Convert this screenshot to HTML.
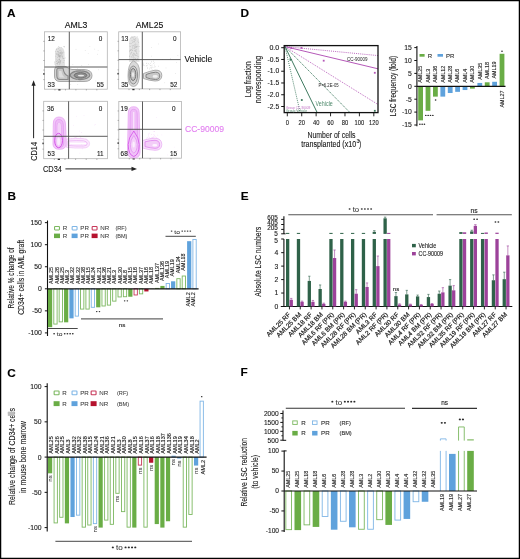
<!DOCTYPE html><html><head><meta charset="utf-8"><style>html,body{margin:0;padding:0;background:#fff;}svg{display:block;will-change:transform;}text{font-family:"Liberation Sans",sans-serif;stroke:currentColor;stroke-width:0.12px;}</style></head><body>
<svg width="520" height="559" viewBox="0 0 520 559">
<defs><filter id="bl" x="-20%" y="-20%" width="140%" height="140%"><feGaussianBlur stdDeviation="0.7"/></filter><filter id="bl2" x="-20%" y="-20%" width="140%" height="140%"><feGaussianBlur stdDeviation="0.35"/></filter><filter id="bl3" x="-30%" y="-30%" width="160%" height="160%"><feGaussianBlur stdDeviation="1.0"/></filter><filter id="spk" x="0" y="0" width="100%" height="100%"><feTurbulence type="fractalNoise" baseFrequency="1.6" numOctaves="1" seed="7" result="n"/><feColorMatrix in="n" type="matrix" values="0 0 0 0 0  0 0 0 0 0  0 0 0 0 0  0 0 0 2.6 -0.75" result="m"/><feGaussianBlur in="SourceGraphic" stdDeviation="0.6" result="b"/><feComposite in="b" in2="m" operator="in"/></filter></defs>
<rect x="0" y="0" width="520" height="559" fill="#fff"/>
<text x="7.00" y="17.20" font-size="11.8" fill="#000" color="#000" font-weight="bold">A</text>
<text x="240.50" y="17.20" font-size="11.8" fill="#000" color="#000" font-weight="bold">D</text>
<text x="7.50" y="199.60" font-size="11.8" fill="#000" color="#000" font-weight="bold">B</text>
<text x="240.80" y="200.20" font-size="11.8" fill="#000" color="#000" font-weight="bold">E</text>
<text x="7.30" y="376.50" font-size="11.8" fill="#000" color="#000" font-weight="bold">C</text>
<text x="240.40" y="376.30" font-size="11.8" fill="#000" color="#000" font-weight="bold">F</text>
<text x="76.10" y="27.50" font-size="8.7" text-anchor="middle" fill="#111" color="#111">AML3</text>
<text x="149.60" y="27.50" font-size="8.7" text-anchor="middle" fill="#111" color="#111">AML25</text>
<text x="184.60" y="61.50" font-size="8.6" fill="#111" color="#111" textLength="27.6" lengthAdjust="spacingAndGlyphs">Vehicle</text>
<text x="185.00" y="132.20" font-size="8.6" fill="#e27ef0" color="#e27ef0" textLength="39" lengthAdjust="spacingAndGlyphs">CC-90009</text>
<rect x="44.50" y="31.80" width="62.80" height="57.40" fill="none" stroke="#b4b4b4" stroke-width="0.8" />
<line x1="43.30" y1="41.37" x2="44.50" y2="41.37" stroke="#777" stroke-width="0.6" />
<line x1="43.30" y1="50.93" x2="44.50" y2="50.93" stroke="#777" stroke-width="0.6" />
<line x1="43.30" y1="60.50" x2="44.50" y2="60.50" stroke="#777" stroke-width="0.6" />
<line x1="43.30" y1="70.07" x2="44.50" y2="70.07" stroke="#777" stroke-width="0.6" />
<line x1="43.30" y1="79.63" x2="44.50" y2="79.63" stroke="#777" stroke-width="0.6" />
<line x1="54.97" y1="89.20" x2="54.97" y2="90.40" stroke="#777" stroke-width="0.6" />
<line x1="65.43" y1="89.20" x2="65.43" y2="90.40" stroke="#777" stroke-width="0.6" />
<line x1="75.90" y1="89.20" x2="75.90" y2="90.40" stroke="#777" stroke-width="0.6" />
<line x1="86.37" y1="89.20" x2="86.37" y2="90.40" stroke="#777" stroke-width="0.6" />
<line x1="96.83" y1="89.20" x2="96.83" y2="90.40" stroke="#777" stroke-width="0.6" />
<rect x="43.20" y="73.13" width="1.30" height="1.60" fill="#333" />
<rect x="58.32" y="89.20" width="2.20" height="1.30" fill="#333" />
<rect x="118.70" y="31.80" width="61.90" height="57.10" fill="none" stroke="#b4b4b4" stroke-width="0.8" />
<line x1="117.50" y1="41.32" x2="118.70" y2="41.32" stroke="#777" stroke-width="0.6" />
<line x1="117.50" y1="50.83" x2="118.70" y2="50.83" stroke="#777" stroke-width="0.6" />
<line x1="117.50" y1="60.35" x2="118.70" y2="60.35" stroke="#777" stroke-width="0.6" />
<line x1="117.50" y1="69.87" x2="118.70" y2="69.87" stroke="#777" stroke-width="0.6" />
<line x1="117.50" y1="79.38" x2="118.70" y2="79.38" stroke="#777" stroke-width="0.6" />
<line x1="129.02" y1="88.90" x2="129.02" y2="90.10" stroke="#777" stroke-width="0.6" />
<line x1="139.33" y1="88.90" x2="139.33" y2="90.10" stroke="#777" stroke-width="0.6" />
<line x1="149.65" y1="88.90" x2="149.65" y2="90.10" stroke="#777" stroke-width="0.6" />
<line x1="159.97" y1="88.90" x2="159.97" y2="90.10" stroke="#777" stroke-width="0.6" />
<line x1="170.28" y1="88.90" x2="170.28" y2="90.10" stroke="#777" stroke-width="0.6" />
<rect x="117.40" y="72.91" width="1.30" height="1.60" fill="#333" />
<rect x="132.32" y="88.90" width="2.20" height="1.30" fill="#333" />
<rect x="43.70" y="101.30" width="63.80" height="57.40" fill="none" stroke="#b4b4b4" stroke-width="0.8" />
<line x1="42.50" y1="110.87" x2="43.70" y2="110.87" stroke="#777" stroke-width="0.6" />
<line x1="42.50" y1="120.43" x2="43.70" y2="120.43" stroke="#777" stroke-width="0.6" />
<line x1="42.50" y1="130.00" x2="43.70" y2="130.00" stroke="#777" stroke-width="0.6" />
<line x1="42.50" y1="139.57" x2="43.70" y2="139.57" stroke="#777" stroke-width="0.6" />
<line x1="42.50" y1="149.13" x2="43.70" y2="149.13" stroke="#777" stroke-width="0.6" />
<line x1="54.33" y1="158.70" x2="54.33" y2="159.90" stroke="#777" stroke-width="0.6" />
<line x1="64.97" y1="158.70" x2="64.97" y2="159.90" stroke="#777" stroke-width="0.6" />
<line x1="75.60" y1="158.70" x2="75.60" y2="159.90" stroke="#777" stroke-width="0.6" />
<line x1="86.23" y1="158.70" x2="86.23" y2="159.90" stroke="#777" stroke-width="0.6" />
<line x1="96.87" y1="158.70" x2="96.87" y2="159.90" stroke="#777" stroke-width="0.6" />
<rect x="42.40" y="142.63" width="1.30" height="1.60" fill="#333" />
<rect x="57.74" y="158.70" width="2.20" height="1.30" fill="#333" />
<rect x="118.80" y="101.50" width="62.70" height="56.70" fill="none" stroke="#b4b4b4" stroke-width="0.8" />
<line x1="117.60" y1="110.95" x2="118.80" y2="110.95" stroke="#777" stroke-width="0.6" />
<line x1="117.60" y1="120.40" x2="118.80" y2="120.40" stroke="#777" stroke-width="0.6" />
<line x1="117.60" y1="129.85" x2="118.80" y2="129.85" stroke="#777" stroke-width="0.6" />
<line x1="117.60" y1="139.30" x2="118.80" y2="139.30" stroke="#777" stroke-width="0.6" />
<line x1="117.60" y1="148.75" x2="118.80" y2="148.75" stroke="#777" stroke-width="0.6" />
<line x1="129.25" y1="158.20" x2="129.25" y2="159.40" stroke="#777" stroke-width="0.6" />
<line x1="139.70" y1="158.20" x2="139.70" y2="159.40" stroke="#777" stroke-width="0.6" />
<line x1="150.15" y1="158.20" x2="150.15" y2="159.40" stroke="#777" stroke-width="0.6" />
<line x1="160.60" y1="158.20" x2="160.60" y2="159.40" stroke="#777" stroke-width="0.6" />
<line x1="171.05" y1="158.20" x2="171.05" y2="159.40" stroke="#777" stroke-width="0.6" />
<rect x="117.50" y="142.32" width="1.30" height="1.60" fill="#333" />
<rect x="132.59" y="158.20" width="2.20" height="1.30" fill="#333" />
<g filter="url(#bl)"><path d="M55,53 Q55,47 59.5,47 Q64.5,47 64.5,53 L65,68 L55,68 Z" fill="#e0e0e0"/><path d="M54.5,70 Q54.5,66.5 58,66.5 L66,66.5 Q68,69 72,69.5 L84,69.5 Q92,70 92,75.5 Q92,81.5 84,81.5 L60,81.5 Q54.5,81.5 54.5,76 Z" fill="#d2d2d2" stroke="#a8a8a8" stroke-width="1"/><path d="M56.8,70 Q56.8,68.2 59,68.2 L63,68.2 Q64,75 68,76 L68,79.5 L60,79.5 Q56.8,79.5 56.8,75.5 Z" fill="#c6c6c6" stroke="#8a8a8a" stroke-width="1.1"/><path d="M59,71 L61.5,71 Q62,76 65,77.5 L60,77.5 Q59,77.5 59,75 Z" fill="#dedede"/><ellipse cx="80" cy="75.2" rx="9.8" ry="4.4" fill="#b5b5b5" stroke="#858585" stroke-width="1.2"/><ellipse cx="80.5" cy="75.4" rx="6.3" ry="2.7" fill="#909090" stroke="#6d6d6d" stroke-width="1"/><ellipse cx="81" cy="75.6" rx="3.2" ry="0.9" fill="#e8e8e8"/></g>
<g fill="#8a8a8a" opacity="0.7"><circle cx="59.8" cy="64.4" r="0.36"/><circle cx="57.5" cy="63.0" r="0.36"/><circle cx="59.0" cy="56.1" r="0.36"/><circle cx="64.0" cy="58.4" r="0.36"/><circle cx="59.5" cy="61.5" r="0.36"/><circle cx="62.2" cy="57.3" r="0.36"/><circle cx="61.0" cy="52.1" r="0.36"/><circle cx="58.8" cy="55.1" r="0.36"/><circle cx="56.5" cy="49.2" r="0.36"/><circle cx="55.9" cy="56.2" r="0.36"/><circle cx="59.2" cy="55.7" r="0.36"/><circle cx="59.8" cy="50.2" r="0.36"/><circle cx="59.4" cy="58.8" r="0.36"/><circle cx="61.3" cy="52.8" r="0.36"/><circle cx="58.7" cy="46.4" r="0.36"/><circle cx="56.3" cy="63.6" r="0.36"/><circle cx="54.5" cy="61.9" r="0.36"/><circle cx="60.4" cy="55.8" r="0.36"/><circle cx="60.7" cy="60.4" r="0.36"/><circle cx="62.0" cy="56.2" r="0.36"/><circle cx="58.2" cy="54.2" r="0.36"/><circle cx="57.3" cy="57.3" r="0.36"/><circle cx="57.8" cy="63.4" r="0.36"/><circle cx="55.3" cy="51.5" r="0.36"/><circle cx="58.9" cy="54.6" r="0.36"/><circle cx="63.4" cy="46.6" r="0.36"/><circle cx="62.1" cy="53.5" r="0.36"/><circle cx="59.2" cy="53.8" r="0.36"/><circle cx="61.1" cy="51.2" r="0.36"/><circle cx="59.4" cy="59.4" r="0.36"/><circle cx="63.1" cy="62.7" r="0.36"/><circle cx="58.5" cy="59.2" r="0.36"/><circle cx="58.5" cy="66.6" r="0.36"/><circle cx="60.1" cy="56.3" r="0.36"/><circle cx="59.1" cy="56.4" r="0.36"/><circle cx="59.2" cy="52.7" r="0.36"/><circle cx="64.3" cy="47.0" r="0.36"/><circle cx="59.3" cy="59.5" r="0.36"/><circle cx="59.1" cy="56.7" r="0.36"/><circle cx="60.4" cy="62.8" r="0.36"/><circle cx="58.6" cy="55.4" r="0.36"/><circle cx="64.1" cy="60.4" r="0.36"/><circle cx="61.4" cy="54.3" r="0.36"/><circle cx="56.9" cy="59.1" r="0.36"/><circle cx="57.7" cy="51.7" r="0.36"/><circle cx="56.6" cy="54.7" r="0.36"/><circle cx="62.1" cy="55.1" r="0.36"/><circle cx="56.3" cy="61.2" r="0.36"/><circle cx="59.8" cy="62.1" r="0.36"/><circle cx="62.4" cy="56.6" r="0.36"/><circle cx="59.3" cy="57.2" r="0.36"/><circle cx="57.0" cy="61.2" r="0.36"/><circle cx="62.8" cy="58.5" r="0.36"/><circle cx="59.1" cy="56.1" r="0.36"/><circle cx="57.8" cy="53.1" r="0.36"/><circle cx="58.7" cy="52.9" r="0.36"/><circle cx="58.6" cy="48.8" r="0.36"/><circle cx="60.4" cy="57.8" r="0.36"/><circle cx="59.6" cy="63.6" r="0.36"/><circle cx="57.9" cy="54.8" r="0.36"/><circle cx="58.3" cy="61.1" r="0.36"/><circle cx="57.5" cy="62.9" r="0.36"/><circle cx="58.9" cy="62.6" r="0.36"/><circle cx="59.7" cy="56.2" r="0.36"/><circle cx="56.2" cy="53.7" r="0.36"/><circle cx="59.0" cy="61.1" r="0.36"/><circle cx="60.2" cy="53.7" r="0.36"/><circle cx="60.5" cy="62.9" r="0.36"/><circle cx="59.3" cy="55.1" r="0.36"/><circle cx="58.7" cy="62.0" r="0.36"/><circle cx="60.8" cy="52.4" r="0.36"/><circle cx="60.5" cy="54.9" r="0.36"/><circle cx="57.9" cy="64.3" r="0.36"/><circle cx="61.5" cy="53.5" r="0.36"/><circle cx="59.8" cy="60.3" r="0.36"/><circle cx="58.1" cy="56.8" r="0.36"/><circle cx="61.1" cy="47.7" r="0.36"/><circle cx="60.4" cy="61.6" r="0.36"/><circle cx="60.8" cy="50.1" r="0.36"/><circle cx="60.3" cy="52.8" r="0.36"/><circle cx="60.9" cy="60.8" r="0.36"/><circle cx="60.1" cy="53.3" r="0.36"/><circle cx="58.2" cy="62.2" r="0.36"/><circle cx="57.5" cy="60.2" r="0.36"/><circle cx="60.8" cy="56.0" r="0.36"/><circle cx="65.1" cy="57.9" r="0.36"/><circle cx="64.5" cy="46.4" r="0.36"/><circle cx="54.4" cy="62.9" r="0.36"/><circle cx="61.1" cy="55.8" r="0.36"/><circle cx="59.5" cy="47.0" r="0.36"/><circle cx="58.2" cy="51.8" r="0.36"/><circle cx="59.1" cy="62.4" r="0.36"/><circle cx="59.7" cy="59.5" r="0.36"/><circle cx="58.0" cy="55.1" r="0.36"/><circle cx="59.9" cy="55.9" r="0.36"/><circle cx="62.5" cy="52.7" r="0.36"/><circle cx="63.9" cy="52.1" r="0.36"/><circle cx="62.0" cy="53.2" r="0.36"/><circle cx="63.4" cy="58.3" r="0.36"/><circle cx="60.5" cy="61.6" r="0.36"/><circle cx="58.1" cy="51.8" r="0.36"/><circle cx="54.9" cy="64.2" r="0.36"/><circle cx="58.0" cy="54.2" r="0.36"/></g>
<g filter="url(#bl)"><path d="M129,42 Q129,36 134,36 Q139.3,36 139.3,42 L139.5,62 L129,62 Z" fill="#e4e4e4"/></g>
<g fill="#9a9a9a" opacity="0.7"><circle cx="134.1" cy="63.9" r="0.36"/><circle cx="129.7" cy="50.9" r="0.36"/><circle cx="133.2" cy="53.0" r="0.36"/><circle cx="129.5" cy="46.0" r="0.36"/><circle cx="136.4" cy="60.7" r="0.36"/><circle cx="138.4" cy="42.6" r="0.36"/><circle cx="134.3" cy="48.2" r="0.36"/><circle cx="130.6" cy="38.2" r="0.36"/><circle cx="136.2" cy="50.8" r="0.36"/><circle cx="133.8" cy="58.1" r="0.36"/><circle cx="131.6" cy="52.9" r="0.36"/><circle cx="134.2" cy="48.6" r="0.36"/><circle cx="135.5" cy="50.3" r="0.36"/><circle cx="134.9" cy="51.0" r="0.36"/><circle cx="139.2" cy="46.7" r="0.36"/><circle cx="136.8" cy="53.6" r="0.36"/><circle cx="133.3" cy="55.0" r="0.36"/><circle cx="132.0" cy="57.7" r="0.36"/><circle cx="132.1" cy="45.3" r="0.36"/><circle cx="135.0" cy="55.2" r="0.36"/><circle cx="136.6" cy="55.7" r="0.36"/><circle cx="133.7" cy="41.8" r="0.36"/><circle cx="135.6" cy="51.3" r="0.36"/><circle cx="131.7" cy="56.3" r="0.36"/><circle cx="134.7" cy="41.8" r="0.36"/><circle cx="135.3" cy="39.1" r="0.36"/><circle cx="131.9" cy="52.0" r="0.36"/><circle cx="130.2" cy="49.3" r="0.36"/><circle cx="130.7" cy="54.5" r="0.36"/><circle cx="132.3" cy="50.4" r="0.36"/><circle cx="130.3" cy="46.4" r="0.36"/><circle cx="136.7" cy="52.4" r="0.36"/><circle cx="129.4" cy="55.9" r="0.36"/><circle cx="136.5" cy="46.2" r="0.36"/><circle cx="137.9" cy="41.1" r="0.36"/><circle cx="134.0" cy="57.4" r="0.36"/><circle cx="137.6" cy="58.6" r="0.36"/><circle cx="135.2" cy="38.3" r="0.36"/><circle cx="133.9" cy="39.4" r="0.36"/><circle cx="137.0" cy="55.0" r="0.36"/><circle cx="135.6" cy="49.1" r="0.36"/><circle cx="134.3" cy="46.8" r="0.36"/><circle cx="135.2" cy="50.9" r="0.36"/><circle cx="135.4" cy="45.8" r="0.36"/><circle cx="139.1" cy="51.1" r="0.36"/><circle cx="137.8" cy="59.0" r="0.36"/><circle cx="131.9" cy="36.3" r="0.36"/><circle cx="137.5" cy="46.1" r="0.36"/><circle cx="134.4" cy="47.1" r="0.36"/><circle cx="134.5" cy="40.1" r="0.36"/><circle cx="133.9" cy="45.5" r="0.36"/><circle cx="136.3" cy="51.5" r="0.36"/><circle cx="129.7" cy="43.5" r="0.36"/><circle cx="134.3" cy="53.7" r="0.36"/><circle cx="134.2" cy="59.4" r="0.36"/><circle cx="134.3" cy="41.5" r="0.36"/><circle cx="132.4" cy="54.6" r="0.36"/><circle cx="132.6" cy="55.3" r="0.36"/><circle cx="136.9" cy="53.4" r="0.36"/><circle cx="136.8" cy="47.7" r="0.36"/><circle cx="134.2" cy="44.6" r="0.36"/><circle cx="132.6" cy="37.3" r="0.36"/><circle cx="132.8" cy="41.0" r="0.36"/><circle cx="130.5" cy="50.1" r="0.36"/><circle cx="135.4" cy="46.4" r="0.36"/><circle cx="137.8" cy="56.1" r="0.36"/><circle cx="136.9" cy="44.5" r="0.36"/><circle cx="130.3" cy="53.2" r="0.36"/><circle cx="135.0" cy="54.4" r="0.36"/><circle cx="135.3" cy="58.5" r="0.36"/><circle cx="133.5" cy="54.0" r="0.36"/><circle cx="133.0" cy="60.2" r="0.36"/><circle cx="129.8" cy="56.6" r="0.36"/><circle cx="132.4" cy="46.0" r="0.36"/><circle cx="134.3" cy="50.6" r="0.36"/><circle cx="131.7" cy="49.9" r="0.36"/><circle cx="135.4" cy="55.3" r="0.36"/><circle cx="132.2" cy="60.6" r="0.36"/><circle cx="130.7" cy="50.3" r="0.36"/><circle cx="129.4" cy="51.8" r="0.36"/><circle cx="135.6" cy="40.4" r="0.36"/><circle cx="130.1" cy="50.4" r="0.36"/><circle cx="135.8" cy="43.1" r="0.36"/><circle cx="132.4" cy="50.1" r="0.36"/><circle cx="134.6" cy="60.9" r="0.36"/><circle cx="135.4" cy="44.6" r="0.36"/><circle cx="134.9" cy="54.4" r="0.36"/><circle cx="135.8" cy="59.8" r="0.36"/><circle cx="137.7" cy="36.5" r="0.36"/><circle cx="133.1" cy="56.3" r="0.36"/><circle cx="134.1" cy="45.8" r="0.36"/><circle cx="138.3" cy="56.8" r="0.36"/><circle cx="133.6" cy="55.8" r="0.36"/><circle cx="130.8" cy="43.6" r="0.36"/><circle cx="136.5" cy="49.3" r="0.36"/><circle cx="131.4" cy="52.4" r="0.36"/><circle cx="135.1" cy="58.6" r="0.36"/><circle cx="136.7" cy="46.9" r="0.36"/><circle cx="132.9" cy="48.0" r="0.36"/><circle cx="133.6" cy="60.0" r="0.36"/><circle cx="138.3" cy="59.2" r="0.36"/><circle cx="135.2" cy="47.2" r="0.36"/><circle cx="136.5" cy="46.4" r="0.36"/><circle cx="134.8" cy="36.5" r="0.36"/><circle cx="133.1" cy="59.8" r="0.36"/><circle cx="131.5" cy="37.8" r="0.36"/><circle cx="133.8" cy="61.5" r="0.36"/><circle cx="138.0" cy="46.3" r="0.36"/><circle cx="133.0" cy="48.2" r="0.36"/><circle cx="131.8" cy="49.3" r="0.36"/><circle cx="133.4" cy="37.9" r="0.36"/><circle cx="132.7" cy="47.1" r="0.36"/><circle cx="132.0" cy="40.6" r="0.36"/><circle cx="136.6" cy="63.2" r="0.36"/><circle cx="133.5" cy="45.8" r="0.36"/><circle cx="135.5" cy="47.3" r="0.36"/><circle cx="132.2" cy="59.4" r="0.36"/><circle cx="131.5" cy="43.5" r="0.36"/><circle cx="132.5" cy="42.4" r="0.36"/><circle cx="133.6" cy="53.3" r="0.36"/><circle cx="137.9" cy="54.0" r="0.36"/><circle cx="134.3" cy="39.6" r="0.36"/><circle cx="134.0" cy="41.9" r="0.36"/></g>
<g fill="#aaa" opacity="0.8"><circle cx="149.5" cy="68.9" r="0.35"/><circle cx="151.0" cy="65.4" r="0.35"/><circle cx="146.2" cy="65.9" r="0.35"/><circle cx="150.6" cy="63.2" r="0.35"/><circle cx="147.5" cy="68.6" r="0.35"/><circle cx="153.0" cy="67.5" r="0.35"/><circle cx="152.0" cy="66.9" r="0.35"/><circle cx="151.5" cy="61.2" r="0.35"/><circle cx="151.3" cy="67.8" r="0.35"/><circle cx="153.3" cy="61.4" r="0.35"/><circle cx="147.6" cy="65.1" r="0.35"/><circle cx="147.4" cy="67.2" r="0.35"/><circle cx="143.6" cy="65.3" r="0.35"/><circle cx="151.1" cy="68.2" r="0.35"/><circle cx="150.2" cy="65.3" r="0.35"/><circle cx="153.5" cy="60.0" r="0.35"/><circle cx="154.7" cy="65.1" r="0.35"/><circle cx="143.7" cy="64.7" r="0.35"/><circle cx="148.4" cy="63.7" r="0.35"/><circle cx="153.7" cy="63.3" r="0.35"/><circle cx="143.5" cy="63.1" r="0.35"/><circle cx="158.6" cy="66.1" r="0.35"/><circle cx="146.9" cy="63.0" r="0.35"/><circle cx="144.5" cy="65.5" r="0.35"/><circle cx="152.1" cy="69.5" r="0.35"/><circle cx="155.7" cy="66.8" r="0.35"/><circle cx="146.7" cy="63.4" r="0.35"/><circle cx="152.1" cy="65.0" r="0.35"/><circle cx="151.8" cy="62.0" r="0.35"/><circle cx="154.5" cy="66.9" r="0.35"/><circle cx="150.2" cy="67.2" r="0.35"/><circle cx="149.1" cy="64.5" r="0.35"/><circle cx="154.3" cy="62.8" r="0.35"/></g>
<g filter="url(#bl2)"><path d="M133.5,61 Q139.5,63 139.5,72 Q139.5,86.5 133.5,86.5 Q128,86.5 128,76 Q128,63 133.5,61 Z" fill="#dadada" stroke="#a6a6a6" stroke-width="0.8"/><ellipse cx="133.3" cy="75" rx="4.3" ry="9" fill="#cfcfcf" stroke="#8a8a8a" stroke-width="0.9"/><ellipse cx="133.1" cy="74.5" rx="2.7" ry="6" fill="#c2c2c2" stroke="#6c6c6c" stroke-width="0.9"/><ellipse cx="133" cy="74.5" rx="1.1" ry="2.6" fill="#ececec"/><path d="M143.5,73.5 Q150,71 155,70.2 Q161.8,69.8 161.8,75.5 Q161.8,81 155,81 Q149,80.5 143.5,78.5 Z" fill="#dedede" stroke="#9a9a9a" stroke-width="0.8"/><path d="M146,74.5 Q151,72.6 155.5,72.2 Q159.8,72.2 159.8,76 Q159.8,79.5 155.5,79.5 Q150.5,79.3 146,77.5 Z" fill="#c8c8c8" stroke="#787878" stroke-width="0.9"/><ellipse cx="155.2" cy="76.4" rx="2.6" ry="1.3" fill="#f0f0f0"/></g>
<g fill="#f0c0f6" opacity="0.9"><circle cx="86.0" cy="138.2" r="0.4"/><circle cx="75.6" cy="137.3" r="0.4"/><circle cx="81.7" cy="132.3" r="0.4"/><circle cx="80.8" cy="137.7" r="0.4"/><circle cx="76.3" cy="136.4" r="0.4"/><circle cx="77.6" cy="141.7" r="0.4"/><circle cx="80.1" cy="142.3" r="0.4"/><circle cx="80.4" cy="145.0" r="0.4"/><circle cx="73.3" cy="136.3" r="0.4"/><circle cx="67.1" cy="143.7" r="0.4"/><circle cx="73.4" cy="145.2" r="0.4"/><circle cx="76.3" cy="137.0" r="0.4"/><circle cx="82.3" cy="148.8" r="0.4"/><circle cx="74.7" cy="137.2" r="0.4"/><circle cx="70.1" cy="144.6" r="0.4"/><circle cx="71.9" cy="139.4" r="0.4"/><circle cx="80.8" cy="141.0" r="0.4"/><circle cx="76.8" cy="138.8" r="0.4"/><circle cx="71.5" cy="141.7" r="0.4"/><circle cx="77.1" cy="143.4" r="0.4"/><circle cx="72.5" cy="142.4" r="0.4"/><circle cx="79.3" cy="141.3" r="0.4"/><circle cx="80.0" cy="145.0" r="0.4"/><circle cx="77.4" cy="141.3" r="0.4"/><circle cx="69.2" cy="142.3" r="0.4"/><circle cx="75.3" cy="139.8" r="0.4"/><circle cx="70.2" cy="143.3" r="0.4"/><circle cx="76.6" cy="142.7" r="0.4"/><circle cx="71.9" cy="141.4" r="0.4"/><circle cx="71.4" cy="138.4" r="0.4"/><circle cx="77.6" cy="141.9" r="0.4"/><circle cx="75.2" cy="137.8" r="0.4"/><circle cx="77.8" cy="136.6" r="0.4"/><circle cx="81.4" cy="139.6" r="0.4"/><circle cx="76.0" cy="144.1" r="0.4"/><circle cx="79.9" cy="135.8" r="0.4"/><circle cx="74.3" cy="142.5" r="0.4"/><circle cx="75.5" cy="140.8" r="0.4"/></g>
<g filter="url(#bl2)"><path d="M53.3,124 Q53.3,117 59,117 Q65,117 65.5,124 L66.3,144 Q66,149.3 59.5,149.3 Q53,149.3 53,144 Z" fill="#f2c8f9" stroke="#e8a6f3" stroke-width="0.8"/><path d="M55.2,125 Q55.2,119.5 59,119.5 Q63,119.5 63.3,125 L63.8,143 Q63.6,147.5 59.2,147.5 Q55,147.5 55,143 Z" fill="#efbcf7" stroke="#e296f1" stroke-width="0.7"/><path d="M57,126 Q57,122 59,122 Q61.3,122 61.5,126 L61.6,135 L57,135 Z" fill="#f4d2f9" stroke="#e49ef2" stroke-width="0.6"/><ellipse cx="58.6" cy="140.5" rx="3.9" ry="7.2" fill="#f1c4f8" stroke="#d658ea" stroke-width="1"/><ellipse cx="58.6" cy="141.5" rx="1.5" ry="4" fill="#f9ecfc"/><path d="M66.5,139 Q76,138.2 83,138.6 Q89.5,139.5 89.5,143.6 Q89.5,148 83,148 Q75,148.3 66.5,147.3 Z" fill="#fbeafd" stroke="#efbff6" stroke-width="0.7"/><path d="M68,141 Q77,140.3 83.5,140.8 Q87.3,141.5 87.3,143.6 Q87.3,146 83.5,146 Q76,146.3 68,145.5 Z" fill="none" stroke="#eaaaf4" stroke-width="0.7"/><path d="M70,143.4 L86,143.5" stroke="#fff" stroke-width="1.1"/></g>
<g fill="#f0c0f6" opacity="0.9"><circle cx="152.6" cy="138.2" r="0.4"/><circle cx="150.8" cy="138.7" r="0.4"/><circle cx="158.2" cy="139.5" r="0.4"/><circle cx="153.3" cy="136.8" r="0.4"/><circle cx="156.7" cy="137.4" r="0.4"/><circle cx="154.4" cy="131.7" r="0.4"/><circle cx="151.5" cy="137.7" r="0.4"/><circle cx="147.2" cy="141.9" r="0.4"/><circle cx="152.4" cy="137.6" r="0.4"/><circle cx="146.9" cy="143.6" r="0.4"/><circle cx="154.5" cy="140.0" r="0.4"/><circle cx="145.4" cy="141.9" r="0.4"/><circle cx="153.3" cy="137.2" r="0.4"/><circle cx="149.4" cy="133.1" r="0.4"/><circle cx="153.9" cy="134.7" r="0.4"/><circle cx="155.1" cy="136.7" r="0.4"/><circle cx="146.3" cy="139.1" r="0.4"/><circle cx="151.3" cy="134.6" r="0.4"/><circle cx="149.6" cy="139.8" r="0.4"/><circle cx="148.5" cy="134.0" r="0.4"/><circle cx="148.5" cy="135.1" r="0.4"/><circle cx="146.5" cy="138.1" r="0.4"/><circle cx="149.7" cy="137.4" r="0.4"/><circle cx="148.8" cy="136.8" r="0.4"/><circle cx="150.9" cy="143.8" r="0.4"/><circle cx="142.3" cy="133.2" r="0.4"/><circle cx="154.6" cy="135.6" r="0.4"/><circle cx="157.8" cy="135.1" r="0.4"/><circle cx="147.1" cy="140.5" r="0.4"/><circle cx="155.4" cy="139.3" r="0.4"/><circle cx="152.7" cy="137.6" r="0.4"/><circle cx="147.4" cy="137.4" r="0.4"/><circle cx="157.6" cy="140.1" r="0.4"/><circle cx="150.1" cy="138.9" r="0.4"/></g>
<g filter="url(#bl2)"><path d="M128.3,113 Q128.3,106.7 133.7,106.7 Q139.2,106.7 139.2,113 L140,152 Q140,158 134,158 Q127.5,158 127.5,152 Z" fill="#f2c8f9" stroke="#e8a6f3" stroke-width="0.8"/><path d="M130.2,114 Q130.2,109.3 133.7,109.3 Q137.2,109.3 137.2,114 L137.6,150 Q137.6,155.6 133.8,155.6 Q129.8,155.6 129.8,150 Z" fill="#efbcf7" stroke="#e296f1" stroke-width="0.7"/><line x1="133.7" y1="112" x2="133.7" y2="130" stroke="#f8e2fb" stroke-width="1.4"/><path d="M133.8,131 Q139.2,138 139.2,144.5 Q139.2,155 133.8,156.5 Q128.2,155 128.2,144.5 Q128.2,138 133.8,131 Z" fill="#f0c2f8" stroke="#d65aea" stroke-width="0.9"/><path d="M133.8,135.5 Q137.2,140 137.2,144.5 Q137.2,151.5 133.8,153 Q130.4,151.5 130.4,144.5 Q130.4,140 133.8,135.5 Z" fill="#f4d0f9" stroke="#e08cf0" stroke-width="0.7"/><ellipse cx="133.7" cy="144.6" rx="1.2" ry="3" fill="#fbf0fd"/><path d="M142.5,140.5 Q150,138.2 155,138.2 Q161.8,138.5 161.8,144.5 Q161.8,150.3 155,150.3 Q149,150 142.5,148 Z" fill="#f8e0fb" stroke="#eab2f4" stroke-width="0.8"/><path d="M145,141.8 Q150.5,140.3 155,140.3 Q159.6,140.6 159.6,144.6 Q159.6,148.3 155,148.3 Q150.5,148.1 145,146.6 Z" fill="#f3cdf8" stroke="#df84ef" stroke-width="0.8"/><ellipse cx="154.8" cy="145.3" rx="2.5" ry="1.2" fill="#fdf5fe"/></g>
<circle cx="75.2" cy="71.8" r="0.35" fill="#c4c4c4"/><circle cx="89.9" cy="46.5" r="0.35" fill="#c4c4c4"/><circle cx="77.8" cy="84.7" r="0.35" fill="#c4c4c4"/><circle cx="77.5" cy="68.5" r="0.35" fill="#c4c4c4"/><circle cx="84.3" cy="77.2" r="0.35" fill="#c4c4c4"/><circle cx="90.5" cy="77.5" r="0.35" fill="#c4c4c4"/><circle cx="88.2" cy="53.5" r="0.35" fill="#c4c4c4"/><circle cx="76.0" cy="49.2" r="0.35" fill="#c4c4c4"/><circle cx="98.1" cy="50.5" r="0.35" fill="#c4c4c4"/><circle cx="70.8" cy="84.7" r="0.35" fill="#c4c4c4"/><circle cx="76.8" cy="81.7" r="0.35" fill="#c4c4c4"/><circle cx="72.9" cy="64.6" r="0.35" fill="#c4c4c4"/><circle cx="77.6" cy="79.2" r="0.35" fill="#c4c4c4"/><circle cx="90.9" cy="71.7" r="0.35" fill="#c4c4c4"/><circle cx="95.9" cy="80.9" r="0.35" fill="#c4c4c4"/><circle cx="81.8" cy="70.1" r="0.35" fill="#c4c4c4"/><circle cx="85.2" cy="50.4" r="0.35" fill="#c4c4c4"/><circle cx="98.4" cy="69.8" r="0.35" fill="#c4c4c4"/><circle cx="97.7" cy="54.2" r="0.35" fill="#c4c4c4"/><circle cx="88.3" cy="64.6" r="0.35" fill="#c4c4c4"/><circle cx="94.8" cy="49.1" r="0.35" fill="#c4c4c4"/><circle cx="81.8" cy="65.4" r="0.35" fill="#c4c4c4"/>
<circle cx="146.4" cy="65.4" r="0.35" fill="#c4c4c4"/><circle cx="169.0" cy="59.5" r="0.35" fill="#c4c4c4"/><circle cx="166.0" cy="67.9" r="0.35" fill="#c4c4c4"/><circle cx="151.3" cy="56.1" r="0.35" fill="#c4c4c4"/><circle cx="177.9" cy="55.4" r="0.35" fill="#c4c4c4"/><circle cx="158.6" cy="43.9" r="0.35" fill="#c4c4c4"/><circle cx="151.4" cy="47.6" r="0.35" fill="#c4c4c4"/><circle cx="175.7" cy="73.4" r="0.35" fill="#c4c4c4"/><circle cx="173.7" cy="85.4" r="0.35" fill="#c4c4c4"/><circle cx="164.8" cy="82.8" r="0.35" fill="#c4c4c4"/><circle cx="162.2" cy="59.3" r="0.35" fill="#c4c4c4"/><circle cx="176.2" cy="81.5" r="0.35" fill="#c4c4c4"/><circle cx="176.3" cy="62.3" r="0.35" fill="#c4c4c4"/><circle cx="170.3" cy="58.7" r="0.35" fill="#c4c4c4"/>
<circle cx="103.9" cy="152.5" r="0.35" fill="#f3d3f8"/><circle cx="79.9" cy="153.1" r="0.35" fill="#f3d3f8"/><circle cx="76.3" cy="116.2" r="0.35" fill="#f3d3f8"/><circle cx="94.6" cy="124.9" r="0.35" fill="#f3d3f8"/><circle cx="87.7" cy="140.1" r="0.35" fill="#f3d3f8"/><circle cx="71.4" cy="144.8" r="0.35" fill="#f3d3f8"/><circle cx="79.4" cy="131.0" r="0.35" fill="#f3d3f8"/><circle cx="81.7" cy="144.7" r="0.35" fill="#f3d3f8"/><circle cx="95.4" cy="124.6" r="0.35" fill="#f3d3f8"/><circle cx="73.5" cy="125.2" r="0.35" fill="#f3d3f8"/><circle cx="84.0" cy="115.4" r="0.35" fill="#f3d3f8"/><circle cx="75.2" cy="145.6" r="0.35" fill="#f3d3f8"/>
<circle cx="167.8" cy="154.9" r="0.35" fill="#f3d3f8"/><circle cx="177.3" cy="150.3" r="0.35" fill="#f3d3f8"/><circle cx="156.7" cy="117.4" r="0.35" fill="#f3d3f8"/><circle cx="154.6" cy="131.3" r="0.35" fill="#f3d3f8"/><circle cx="161.9" cy="134.9" r="0.35" fill="#f3d3f8"/><circle cx="156.2" cy="149.2" r="0.35" fill="#f3d3f8"/><circle cx="153.7" cy="131.3" r="0.35" fill="#f3d3f8"/><circle cx="174.2" cy="147.1" r="0.35" fill="#f3d3f8"/>
<line x1="69.30" y1="31.80" x2="69.30" y2="89.20" stroke="#4a4a4a" stroke-width="0.9" />
<line x1="44.50" y1="67.00" x2="107.30" y2="67.00" stroke="#4a4a4a" stroke-width="0.9" />
<text x="47.80" y="41.20" font-size="6.4" fill="#222" color="#222">12</text>
<text x="102.30" y="41.20" font-size="6.4" text-anchor="end" fill="#222" color="#222">0</text>
<text x="47.60" y="86.80" font-size="6.4" fill="#222" color="#222">33</text>
<text x="103.90" y="86.80" font-size="6.4" text-anchor="end" fill="#222" color="#222">55</text>
<line x1="142.30" y1="31.80" x2="142.30" y2="88.90" stroke="#4a4a4a" stroke-width="0.9" />
<line x1="118.70" y1="59.60" x2="180.60" y2="59.60" stroke="#4a4a4a" stroke-width="0.9" />
<text x="121.20" y="41.20" font-size="6.4" fill="#222" color="#222">13</text>
<text x="176.60" y="41.20" font-size="6.4" text-anchor="end" fill="#222" color="#222">0</text>
<text x="121.20" y="86.50" font-size="6.4" fill="#222" color="#222">35</text>
<text x="177.30" y="86.50" font-size="6.4" text-anchor="end" fill="#222" color="#222">52</text>
<line x1="68.60" y1="101.30" x2="68.60" y2="158.70" stroke="#4a4a4a" stroke-width="0.9" />
<line x1="43.70" y1="136.30" x2="107.50" y2="136.30" stroke="#4a4a4a" stroke-width="0.9" />
<text x="47.00" y="110.70" font-size="6.4" fill="#222" color="#222">36</text>
<text x="102.40" y="110.70" font-size="6.4" text-anchor="end" fill="#222" color="#222">0</text>
<text x="47.60" y="156.30" font-size="6.4" fill="#222" color="#222">53</text>
<text x="103.60" y="156.30" font-size="6.4" text-anchor="end" fill="#222" color="#222">11</text>
<line x1="142.50" y1="101.50" x2="142.50" y2="158.20" stroke="#4a4a4a" stroke-width="0.9" />
<line x1="118.80" y1="129.30" x2="181.50" y2="129.30" stroke="#4a4a4a" stroke-width="0.9" />
<text x="120.60" y="110.90" font-size="6.4" fill="#222" color="#222">19</text>
<text x="175.50" y="110.90" font-size="6.4" text-anchor="end" fill="#222" color="#222">0</text>
<text x="120.60" y="155.80" font-size="6.4" fill="#222" color="#222">68</text>
<text x="177.00" y="155.80" font-size="6.4" text-anchor="end" fill="#222" color="#222">15</text>
<line x1="33.60" y1="138.20" x2="33.60" y2="84.50" stroke="#222" stroke-width="1" />
<path d="M33.6,80.2 L31.5,85.8 L35.7,85.8 Z" fill="#222"/>
<text x="37.00" y="160.80" font-size="9" fill="#222" color="#222" textLength="18.8" lengthAdjust="spacingAndGlyphs" transform="rotate(-90 37.00 160.80)">CD14</text>
<text x="43.00" y="171.50" font-size="9" fill="#222" color="#222" textLength="19" lengthAdjust="spacingAndGlyphs">CD34</text>
<line x1="65.40" y1="168.90" x2="132.00" y2="168.90" stroke="#222" stroke-width="1" />
<path d="M137,168.9 L131.5,166.8 L131.5,171 Z" fill="#222"/>
<clipPath id="dclip"><rect x="284.2" y="45.6" width="93.80000000000001" height="67.0"/></clipPath>
<g clip-path="url(#dclip)">
<line x1="285.00" y1="46.60" x2="378.00" y2="68.80" stroke="#b558b8" stroke-width="1.0" />
<line x1="285.00" y1="46.60" x2="378.00" y2="55.60" stroke="#b558b8" stroke-width="0.9" stroke-dasharray="1 1.1"/>
<line x1="285.00" y1="46.60" x2="378.00" y2="104.50" stroke="#b558b8" stroke-width="0.9" stroke-dasharray="1 1.1"/>
<line x1="285.00" y1="46.60" x2="317.20" y2="112.60" stroke="#3f7a60" stroke-width="1.0" />
<line x1="285.00" y1="46.60" x2="350.00" y2="112.60" stroke="#3f7a60" stroke-width="0.9" stroke-dasharray="1.3 0.9"/>
<line x1="285.00" y1="46.60" x2="300.20" y2="112.60" stroke="#3f7a60" stroke-width="0.9" stroke-dasharray="1 1.1"/>
</g>
<rect x="290.40" y="47.10" width="1.80" height="1.80" fill="#b558b8" />
<rect x="300.60" y="47.00" width="1.80" height="1.80" fill="#b558b8" />
<rect x="322.80" y="59.80" width="1.80" height="1.80" fill="#b558b8" />
<rect x="373.90" y="71.90" width="1.80" height="1.80" fill="#b558b8" />
<rect x="300.90" y="99.10" width="1.80" height="1.80" fill="#3f7a60" />
<rect x="373.90" y="109.90" width="1.80" height="1.80" fill="#3f7a60" />
<path d="M289.5,58.2 L292.3,59.6 L289.8,61.2 Z" fill="#3f7a60"/>
<rect x="284.20" y="45.60" width="93.80" height="67.00" fill="none" stroke="#111" stroke-width="1.3" />
<line x1="281.20" y1="47.70" x2="284.20" y2="47.70" stroke="#111" stroke-width="1.0" />
<text x="279.20" y="49.90" font-size="6.3" text-anchor="end" fill="#222" color="#222" textLength="9.8" lengthAdjust="spacingAndGlyphs">0.0</text>
<line x1="281.20" y1="59.46" x2="284.20" y2="59.46" stroke="#111" stroke-width="1.0" />
<text x="279.20" y="61.66" font-size="6.3" text-anchor="end" fill="#222" color="#222" textLength="11.6" lengthAdjust="spacingAndGlyphs">-0.5</text>
<line x1="281.20" y1="71.22" x2="284.20" y2="71.22" stroke="#111" stroke-width="1.0" />
<text x="279.20" y="73.42" font-size="6.3" text-anchor="end" fill="#222" color="#222" textLength="11.6" lengthAdjust="spacingAndGlyphs">-1.0</text>
<line x1="281.20" y1="82.98" x2="284.20" y2="82.98" stroke="#111" stroke-width="1.0" />
<text x="279.20" y="85.18" font-size="6.3" text-anchor="end" fill="#222" color="#222" textLength="11.6" lengthAdjust="spacingAndGlyphs">-1.5</text>
<line x1="281.20" y1="94.74" x2="284.20" y2="94.74" stroke="#111" stroke-width="1.0" />
<text x="279.20" y="96.94" font-size="6.3" text-anchor="end" fill="#222" color="#222" textLength="11.6" lengthAdjust="spacingAndGlyphs">-2.0</text>
<line x1="281.20" y1="106.50" x2="284.20" y2="106.50" stroke="#111" stroke-width="1.0" />
<text x="279.20" y="108.70" font-size="6.3" text-anchor="end" fill="#222" color="#222" textLength="11.6" lengthAdjust="spacingAndGlyphs">-2.5</text>
<line x1="287.30" y1="112.60" x2="287.30" y2="116.30" stroke="#111" stroke-width="0.9" />
<text x="287.30" y="125.20" font-size="7.0" text-anchor="middle" fill="#222" color="#222" textLength="3.2" lengthAdjust="spacingAndGlyphs">0</text>
<line x1="301.72" y1="112.60" x2="301.72" y2="116.30" stroke="#111" stroke-width="0.9" />
<text x="301.72" y="125.20" font-size="7.0" text-anchor="middle" fill="#222" color="#222" textLength="6.4" lengthAdjust="spacingAndGlyphs">20</text>
<line x1="316.14" y1="112.60" x2="316.14" y2="116.30" stroke="#111" stroke-width="0.9" />
<text x="316.14" y="125.20" font-size="7.0" text-anchor="middle" fill="#222" color="#222" textLength="6.4" lengthAdjust="spacingAndGlyphs">40</text>
<line x1="330.56" y1="112.60" x2="330.56" y2="116.30" stroke="#111" stroke-width="0.9" />
<text x="330.56" y="125.20" font-size="7.0" text-anchor="middle" fill="#222" color="#222" textLength="6.4" lengthAdjust="spacingAndGlyphs">60</text>
<line x1="344.98" y1="112.60" x2="344.98" y2="116.30" stroke="#111" stroke-width="0.9" />
<text x="344.98" y="125.20" font-size="7.0" text-anchor="middle" fill="#222" color="#222" textLength="6.4" lengthAdjust="spacingAndGlyphs">80</text>
<line x1="359.40" y1="112.60" x2="359.40" y2="116.30" stroke="#111" stroke-width="0.9" />
<text x="359.40" y="125.20" font-size="7.0" text-anchor="middle" fill="#222" color="#222" textLength="9.6" lengthAdjust="spacingAndGlyphs">100</text>
<line x1="373.82" y1="112.60" x2="373.82" y2="116.30" stroke="#111" stroke-width="0.9" />
<text x="373.82" y="125.20" font-size="7.0" text-anchor="middle" fill="#222" color="#222" textLength="9.6" lengthAdjust="spacingAndGlyphs">120</text>
<text x="347.00" y="60.80" font-size="5.0" fill="#222" color="#222" style="stroke-width:0" textLength="20.5" lengthAdjust="spacingAndGlyphs">CC-90009</text>
<text x="318.60" y="87.30" font-size="5.0" fill="#222" color="#222" style="stroke-width:0" textLength="20" lengthAdjust="spacingAndGlyphs">P=6.2E-05</text>
<text x="315.60" y="106.00" font-size="6.8" fill="#4f8a6c" color="#4f8a6c" textLength="17.2" lengthAdjust="spacingAndGlyphs" style="stroke-width:0">Vehicle</text>
<text x="285.90" y="109.00" font-size="4.2" fill="#c070c4" color="#c070c4" style="stroke-width:0" textLength="24.4" lengthAdjust="spacingAndGlyphs">Group CC-90009</text>
<text x="285.90" y="111.90" font-size="4.2" fill="#5a8a72" color="#5a8a72" style="stroke-width:0" textLength="21.3" lengthAdjust="spacingAndGlyphs">Group Vehicle</text>
<text x="331.50" y="137.70" font-size="9.2" text-anchor="middle" fill="#222" color="#222" textLength="48" lengthAdjust="spacingAndGlyphs">Number of cells</text>
<text x="301.2" y="146.9" font-size="9.2" fill="#222" textLength="55" lengthAdjust="spacingAndGlyphs">transplanted (x10</text>
<text x="356.40" y="142.60" font-size="5.5" fill="#222" color="#222">3</text>
<text x="359.00" y="146.90" font-size="9.2" fill="#222" color="#222" textLength="2.2" lengthAdjust="spacingAndGlyphs">)</text>
<text x="250.80" y="97.30" font-size="8.8" fill="#222" color="#222" textLength="36" lengthAdjust="spacingAndGlyphs" transform="rotate(-90 250.80 97.30)">Log fraction</text>
<text x="261.40" y="103.30" font-size="8.8" fill="#222" color="#222" textLength="47.5" lengthAdjust="spacingAndGlyphs" transform="rotate(-90 261.40 103.30)">nonresponding</text>
<line x1="416.90" y1="46.00" x2="416.90" y2="126.30" stroke="#111" stroke-width="1.1" />
<line x1="414.30" y1="47.60" x2="416.90" y2="47.60" stroke="#111" stroke-width="1.0" />
<text x="411.80" y="49.90" font-size="6.8" text-anchor="end" fill="#222" color="#222">15</text>
<line x1="414.30" y1="60.50" x2="416.90" y2="60.50" stroke="#111" stroke-width="1.0" />
<text x="411.80" y="62.80" font-size="6.8" text-anchor="end" fill="#222" color="#222">10</text>
<line x1="414.30" y1="73.40" x2="416.90" y2="73.40" stroke="#111" stroke-width="1.0" />
<text x="411.80" y="75.70" font-size="6.8" text-anchor="end" fill="#222" color="#222">5</text>
<line x1="414.30" y1="86.30" x2="416.90" y2="86.30" stroke="#111" stroke-width="1.0" />
<text x="411.80" y="88.60" font-size="6.8" text-anchor="end" fill="#222" color="#222">0</text>
<line x1="414.30" y1="99.20" x2="416.90" y2="99.20" stroke="#111" stroke-width="1.0" />
<text x="411.80" y="101.50" font-size="6.8" text-anchor="end" fill="#222" color="#222">-5</text>
<line x1="414.30" y1="112.10" x2="416.90" y2="112.10" stroke="#111" stroke-width="1.0" />
<text x="411.80" y="114.40" font-size="6.8" text-anchor="end" fill="#222" color="#222">-10</text>
<line x1="414.30" y1="125.00" x2="416.90" y2="125.00" stroke="#111" stroke-width="1.0" />
<text x="411.80" y="127.30" font-size="6.8" text-anchor="end" fill="#222" color="#222">-15</text>
<rect x="418.20" y="86.30" width="4.80" height="34.06" fill="#6aad46" />
<text x="422.50" y="82.80" font-size="5.4" fill="#222" color="#222" transform="rotate(-90 422.50 82.80)">AML25</text>
<rect x="425.60" y="86.30" width="4.80" height="24.51" fill="#6aad46" />
<text x="429.90" y="82.80" font-size="5.4" fill="#222" color="#222" transform="rotate(-90 429.90 82.80)">AML3</text>
<rect x="433.00" y="86.30" width="4.80" height="10.32" fill="#6aad46" />
<text x="437.30" y="82.80" font-size="5.4" fill="#222" color="#222" transform="rotate(-90 437.30 82.80)">AML36</text>
<rect x="440.40" y="86.30" width="4.80" height="10.32" fill="#5fa2dc" />
<text x="444.70" y="82.80" font-size="5.4" fill="#222" color="#222" transform="rotate(-90 444.70 82.80)">AML12</text>
<rect x="447.80" y="86.30" width="4.80" height="6.71" fill="#5fa2dc" />
<text x="452.10" y="82.80" font-size="5.4" fill="#222" color="#222" transform="rotate(-90 452.10 82.80)">AML28</text>
<rect x="455.20" y="86.30" width="4.80" height="5.55" fill="#5fa2dc" />
<text x="459.50" y="82.80" font-size="5.4" fill="#222" color="#222" transform="rotate(-90 459.50 82.80)">AML6</text>
<rect x="462.60" y="86.30" width="4.80" height="3.74" fill="#5fa2dc" />
<text x="466.90" y="82.80" font-size="5.4" fill="#222" color="#222" transform="rotate(-90 466.90 82.80)">AML4</text>
<rect x="470.00" y="86.30" width="4.80" height="2.32" fill="#6aad46" />
<text x="474.30" y="82.80" font-size="5.4" fill="#222" color="#222" transform="rotate(-90 474.30 82.80)">AML30</text>
<rect x="477.40" y="82.95" width="4.80" height="3.35" fill="#5fa2dc" />
<text x="481.70" y="79.75" font-size="5.4" fill="#222" color="#222" transform="rotate(-90 481.70 79.75)">AML35</text>
<rect x="484.80" y="82.30" width="4.80" height="4.00" fill="#6aad46" />
<text x="489.10" y="79.10" font-size="5.4" fill="#222" color="#222" transform="rotate(-90 489.10 79.10)">AML18</text>
<rect x="492.20" y="81.78" width="4.80" height="4.52" fill="#5fa2dc" />
<text x="496.50" y="78.58" font-size="5.4" fill="#222" color="#222" transform="rotate(-90 496.50 78.58)">AML19</text>
<rect x="499.60" y="53.79" width="4.80" height="32.51" fill="#6aad46" />
<text x="503.90" y="107.60" font-size="5.4" fill="#222" color="#222" transform="rotate(-90 503.90 107.60)">AML27</text>
<line x1="416.90" y1="86.30" x2="505.50" y2="86.30" stroke="#111" stroke-width="1.2" />
<ellipse cx="419.90" cy="124.20" rx="0.83" ry="0.68" fill="#2a2a2a"/>
<ellipse cx="422.15" cy="124.20" rx="0.83" ry="0.68" fill="#2a2a2a"/>
<ellipse cx="424.40" cy="124.20" rx="0.83" ry="0.68" fill="#2a2a2a"/>
<ellipse cx="425.80" cy="115.40" rx="0.83" ry="0.68" fill="#2a2a2a"/>
<ellipse cx="428.15" cy="115.40" rx="0.83" ry="0.68" fill="#2a2a2a"/>
<ellipse cx="430.50" cy="115.40" rx="0.83" ry="0.68" fill="#2a2a2a"/>
<ellipse cx="432.85" cy="115.40" rx="0.83" ry="0.68" fill="#2a2a2a"/>
<ellipse cx="435.60" cy="100.00" rx="0.83" ry="0.68" fill="#2a2a2a"/>
<ellipse cx="502.00" cy="51.30" rx="0.83" ry="0.68" fill="#2a2a2a"/>
<rect x="419.50" y="54.00" width="5.10" height="2.70" fill="#6aad46" />
<text x="427.80" y="57.80" font-size="6.0" fill="#333" color="#333">R</text>
<rect x="437.50" y="54.00" width="5.50" height="2.70" fill="#5fa2dc" />
<text x="446.00" y="57.80" font-size="6.0" fill="#333" color="#333">PR</text>
<text x="396.00" y="116.40" font-size="8.3" fill="#222" color="#222" textLength="60.5" lengthAdjust="spacingAndGlyphs" transform="rotate(-90 396.00 116.40)">LSC frequency (fold)</text>
<line x1="47.50" y1="220.50" x2="47.50" y2="336.00" stroke="#111" stroke-width="1.1" />
<line x1="44.90" y1="222.65" x2="47.50" y2="222.65" stroke="#111" stroke-width="1.0" />
<text x="41.90" y="225.05" font-size="6.8" text-anchor="end" fill="#222" color="#222">150</text>
<line x1="44.90" y1="244.70" x2="47.50" y2="244.70" stroke="#111" stroke-width="1.0" />
<text x="41.90" y="247.10" font-size="6.8" text-anchor="end" fill="#222" color="#222">100</text>
<line x1="44.90" y1="266.75" x2="47.50" y2="266.75" stroke="#111" stroke-width="1.0" />
<text x="41.90" y="269.15" font-size="6.8" text-anchor="end" fill="#222" color="#222">50</text>
<line x1="44.90" y1="288.80" x2="47.50" y2="288.80" stroke="#111" stroke-width="1.0" />
<text x="41.90" y="291.20" font-size="6.8" text-anchor="end" fill="#222" color="#222">0</text>
<line x1="44.90" y1="310.85" x2="47.50" y2="310.85" stroke="#111" stroke-width="1.0" />
<text x="41.90" y="313.25" font-size="6.8" text-anchor="end" fill="#222" color="#222">-50</text>
<line x1="44.90" y1="332.90" x2="47.50" y2="332.90" stroke="#111" stroke-width="1.0" />
<text x="41.90" y="335.30" font-size="6.8" text-anchor="end" fill="#222" color="#222">-100</text>
<rect x="48.00" y="288.80" width="4.20" height="38.37" fill="#6aad46" />
<text x="53.25" y="284.00" font-size="5.4" fill="#222" color="#222" transform="rotate(-90 53.25 284.00)">AML25</text>
<rect x="53.80" y="288.80" width="3.30" height="35.27" fill="white" stroke="#7cb860" stroke-width="0.9" />
<text x="58.52" y="284.00" font-size="5.4" fill="#222" color="#222" transform="rotate(-90 58.52 284.00)">AML26</text>
<rect x="59.15" y="288.80" width="3.30" height="33.07" fill="white" stroke="#7cb860" stroke-width="0.9" />
<text x="63.78" y="284.00" font-size="5.4" fill="#222" color="#222" transform="rotate(-90 63.78 284.00)">AML25</text>
<rect x="64.05" y="288.80" width="4.20" height="33.52" fill="#6aad46" />
<text x="69.05" y="284.00" font-size="5.4" fill="#222" color="#222" transform="rotate(-90 69.05 284.00)">AML3</text>
<rect x="69.40" y="288.80" width="4.20" height="29.55" fill="#5fa2dc" />
<text x="74.31" y="284.00" font-size="5.4" fill="#222" color="#222" transform="rotate(-90 74.31 284.00)">AML32</text>
<rect x="75.20" y="288.80" width="3.30" height="27.33" fill="white" stroke="#7fb6e6" stroke-width="0.9" />
<text x="79.58" y="284.00" font-size="5.4" fill="#222" color="#222" transform="rotate(-90 79.58 284.00)">AML32</text>
<rect x="80.55" y="288.80" width="3.30" height="20.28" fill="white" stroke="#7cb860" stroke-width="0.9" />
<text x="84.84" y="284.00" font-size="5.4" fill="#222" color="#222" transform="rotate(-90 84.84 284.00)">AML38</text>
<rect x="85.90" y="288.80" width="3.30" height="20.28" fill="white" stroke="#7cb860" stroke-width="0.9" />
<text x="90.10" y="284.00" font-size="5.4" fill="#222" color="#222" transform="rotate(-90 90.10 284.00)">AML15</text>
<rect x="91.25" y="288.80" width="3.30" height="18.51" fill="white" stroke="#7fb6e6" stroke-width="0.9" />
<text x="95.37" y="284.00" font-size="5.4" fill="#222" color="#222" transform="rotate(-90 95.37 284.00)">AML24</text>
<rect x="96.15" y="288.80" width="4.20" height="18.52" fill="#6aad46" />
<text x="100.63" y="284.00" font-size="5.4" fill="#222" color="#222" transform="rotate(-90 100.63 284.00)">AML21</text>
<rect x="101.95" y="288.80" width="3.30" height="17.19" fill="white" stroke="#7cb860" stroke-width="0.9" />
<text x="105.90" y="284.00" font-size="5.4" fill="#222" color="#222" transform="rotate(-90 105.90 284.00)">AML36</text>
<rect x="107.30" y="288.80" width="3.30" height="16.31" fill="white" stroke="#7cb860" stroke-width="0.9" />
<text x="111.16" y="284.00" font-size="5.4" fill="#222" color="#222" transform="rotate(-90 111.16 284.00)">AML21</text>
<rect x="112.65" y="288.80" width="3.30" height="12.34" fill="white" stroke="#7cb860" stroke-width="0.9" />
<text x="116.43" y="284.00" font-size="5.4" fill="#222" color="#222" transform="rotate(-90 116.43 284.00)">AML3</text>
<rect x="118.00" y="288.80" width="3.30" height="8.15" fill="white" stroke="#7cb860" stroke-width="0.9" />
<text x="121.69" y="284.00" font-size="5.4" fill="#222" color="#222" transform="rotate(-90 121.69 284.00)">AML30</text>
<rect x="123.35" y="288.80" width="3.30" height="7.93" fill="white" stroke="#7cb860" stroke-width="0.9" />
<text x="126.96" y="284.00" font-size="5.4" fill="#222" color="#222" transform="rotate(-90 126.96 284.00)">AML8</text>
<rect x="128.25" y="288.80" width="4.20" height="7.94" fill="#6aad46" />
<text x="132.22" y="284.00" font-size="5.4" fill="#222" color="#222" transform="rotate(-90 132.22 284.00)">AML15</text>
<rect x="134.05" y="288.80" width="3.30" height="6.17" fill="white" stroke="#c8385a" stroke-width="0.9" />
<text x="137.49" y="284.00" font-size="5.4" fill="#222" color="#222" transform="rotate(-90 137.49 284.00)">AML16</text>
<rect x="139.40" y="288.80" width="3.30" height="5.06" fill="white" stroke="#7cb860" stroke-width="0.9" />
<text x="142.75" y="284.00" font-size="5.4" fill="#222" color="#222" transform="rotate(-90 142.75 284.00)">AML37</text>
<rect x="144.30" y="288.80" width="4.20" height="2.65" fill="#b5122e" />
<text x="148.02" y="284.00" font-size="5.4" fill="#222" color="#222" transform="rotate(-90 148.02 284.00)">AML16</text>
<rect x="149.65" y="288.80" width="4.20" height="0.22" fill="#6aad46" />
<text x="153.28" y="284.00" font-size="5.4" fill="#222" color="#222" transform="rotate(-90 153.28 284.00)">AML18</text>
<rect x="155.00" y="287.92" width="4.20" height="0.88" fill="#6aad46" />
<text x="158.55" y="283.02" font-size="5.4" fill="#222" color="#222" transform="rotate(-90 158.55 283.02)">AML137</text>
<rect x="160.35" y="285.93" width="4.20" height="2.87" fill="#6aad46" />
<text x="163.81" y="281.03" font-size="5.4" fill="#222" color="#222" transform="rotate(-90 163.81 281.03)">AML136</text>
<rect x="166.15" y="283.52" width="3.30" height="5.28" fill="white" stroke="#7fb6e6" stroke-width="0.9" />
<text x="169.08" y="278.17" font-size="5.4" fill="#222" color="#222" transform="rotate(-90 169.08 278.17)">AML19</text>
<rect x="171.05" y="281.30" width="4.20" height="7.50" fill="#5fa2dc" />
<text x="174.34" y="276.40" font-size="5.4" fill="#222" color="#222" transform="rotate(-90 174.34 276.40)">AML19</text>
<rect x="176.85" y="278.67" width="3.30" height="10.13" fill="white" stroke="#7cb860" stroke-width="0.9" />
<text x="179.61" y="273.32" font-size="5.4" fill="#222" color="#222" transform="rotate(-90 179.61 273.32)">AML34</text>
<rect x="182.20" y="276.02" width="3.30" height="12.78" fill="white" stroke="#7cb860" stroke-width="0.9" />
<text x="184.88" y="270.67" font-size="5.4" fill="#222" color="#222" transform="rotate(-90 184.88 270.67)">AML18</text>
<rect x="187.10" y="241.17" width="4.20" height="47.63" fill="#5fa2dc" />
<text x="190.14" y="306.40" font-size="5.4" fill="#222" color="#222" transform="rotate(-90 190.14 306.40)">AML2</text>
<rect x="192.90" y="239.42" width="3.30" height="49.38" fill="white" stroke="#7fb6e6" stroke-width="0.9" />
<text x="195.41" y="306.40" font-size="5.4" fill="#222" color="#222" transform="rotate(-90 195.41 306.40)">AML2</text>
<line x1="47.50" y1="288.80" x2="198.60" y2="288.80" stroke="#111" stroke-width="1.2" />
<ellipse cx="96.75" cy="311.60" rx="0.79" ry="0.65" fill="#2a2a2a"/>
<ellipse cx="99.45" cy="311.60" rx="0.79" ry="0.65" fill="#2a2a2a"/>
<ellipse cx="124.65" cy="300.80" rx="0.79" ry="0.65" fill="#2a2a2a"/>
<ellipse cx="127.35" cy="300.80" rx="0.79" ry="0.65" fill="#2a2a2a"/>
<line x1="47.50" y1="328.50" x2="77.70" y2="328.50" stroke="#333" stroke-width="0.9" />
<ellipse cx="54.10" cy="333.70" rx="0.88" ry="0.72" fill="#2a2a2a"/>
<text x="56.80" y="336.20" font-size="6.0" fill="#333" color="#333" textLength="5.60" lengthAdjust="spacingAndGlyphs" style="stroke-width:0.05px">to</text>
<ellipse cx="64.70" cy="333.70" rx="0.88" ry="0.72" fill="#2a2a2a"/>
<ellipse cx="67.40" cy="333.70" rx="0.88" ry="0.72" fill="#2a2a2a"/>
<ellipse cx="70.10" cy="333.70" rx="0.88" ry="0.72" fill="#2a2a2a"/>
<ellipse cx="72.80" cy="333.70" rx="0.88" ry="0.72" fill="#2a2a2a"/>
<line x1="81.00" y1="318.90" x2="163.00" y2="318.90" stroke="#666" stroke-width="1.1" />
<text x="122.00" y="327.00" font-size="6.2" text-anchor="middle" fill="#222" color="#222">ns</text>
<line x1="165.50" y1="236.30" x2="195.80" y2="236.30" stroke="#333" stroke-width="0.9" />
<ellipse cx="171.60" cy="231.10" rx="0.88" ry="0.72" fill="#2a2a2a"/>
<text x="174.30" y="233.60" font-size="6.0" fill="#333" color="#333" textLength="5.60" lengthAdjust="spacingAndGlyphs" style="stroke-width:0.05px">to</text>
<ellipse cx="182.20" cy="231.10" rx="0.88" ry="0.72" fill="#2a2a2a"/>
<ellipse cx="184.90" cy="231.10" rx="0.88" ry="0.72" fill="#2a2a2a"/>
<ellipse cx="187.60" cy="231.10" rx="0.88" ry="0.72" fill="#2a2a2a"/>
<ellipse cx="190.30" cy="231.10" rx="0.88" ry="0.72" fill="#2a2a2a"/>
<rect x="54.55" y="226.55" width="4.90" height="3.40" fill="white" stroke="#7cb860" stroke-width="1.1" rx="0.6"/>
<rect x="54.00" y="233.60" width="6.00" height="4.50" fill="#6aad46" />
<text x="62.70" y="230.30" font-size="6.2" fill="#3a3a3a" color="#3a3a3a" style="stroke-width:0.05px">R</text>
<text x="62.70" y="237.90" font-size="6.2" fill="#3a3a3a" color="#3a3a3a" style="stroke-width:0.05px">R</text>
<rect x="72.15" y="226.55" width="4.90" height="3.40" fill="white" stroke="#7fb6e6" stroke-width="1.1" rx="0.6"/>
<rect x="71.60" y="233.60" width="6.00" height="4.50" fill="#5fa2dc" />
<text x="80.30" y="230.30" font-size="6.2" fill="#3a3a3a" color="#3a3a3a" style="stroke-width:0.05px">PR</text>
<text x="80.30" y="237.90" font-size="6.2" fill="#3a3a3a" color="#3a3a3a" style="stroke-width:0.05px">PR</text>
<rect x="92.15" y="226.55" width="4.90" height="3.40" fill="white" stroke="#c8385a" stroke-width="1.1" rx="0.6"/>
<rect x="91.60" y="233.60" width="6.00" height="4.50" fill="#b5122e" />
<text x="100.30" y="230.30" font-size="6.2" fill="#3a3a3a" color="#3a3a3a" style="stroke-width:0.05px">NR</text>
<text x="100.30" y="237.90" font-size="6.2" fill="#3a3a3a" color="#3a3a3a" style="stroke-width:0.05px">NR</text>
<text x="115.40" y="230.30" font-size="5.58" fill="#3a3a3a" color="#3a3a3a" style="stroke-width:0.05px">(RF)</text>
<text x="115.40" y="237.90" font-size="5.58" fill="#3a3a3a" color="#3a3a3a" style="stroke-width:0.05px">(BM)</text>
<text x="14.20" y="308.40" font-size="8.2" fill="#222" color="#222" textLength="61" lengthAdjust="spacingAndGlyphs" transform="rotate(-90 14.20 308.40)">Relative % change of</text>
<text x="23.80" y="314.80" font-size="8.2" fill="#222" color="#222" textLength="75" lengthAdjust="spacingAndGlyphs" transform="rotate(-90 23.80 314.80)">CD34+ cells in AML graft</text>
<line x1="47.20" y1="383.30" x2="47.20" y2="531.50" stroke="#111" stroke-width="1.1" />
<line x1="44.60" y1="386.60" x2="47.20" y2="386.60" stroke="#111" stroke-width="1.0" />
<text x="41.60" y="389.00" font-size="6.8" text-anchor="end" fill="#222" color="#222">100</text>
<line x1="44.60" y1="421.85" x2="47.20" y2="421.85" stroke="#111" stroke-width="1.0" />
<text x="41.60" y="424.25" font-size="6.8" text-anchor="end" fill="#222" color="#222">50</text>
<line x1="44.60" y1="457.10" x2="47.20" y2="457.10" stroke="#111" stroke-width="1.0" />
<text x="41.60" y="459.50" font-size="6.8" text-anchor="end" fill="#222" color="#222">0</text>
<line x1="44.60" y1="492.35" x2="47.20" y2="492.35" stroke="#111" stroke-width="1.0" />
<text x="41.60" y="494.75" font-size="6.8" text-anchor="end" fill="#222" color="#222">-50</text>
<line x1="44.60" y1="527.60" x2="47.20" y2="527.60" stroke="#111" stroke-width="1.0" />
<text x="41.60" y="530.00" font-size="6.8" text-anchor="end" fill="#222" color="#222">-100</text>
<rect x="48.00" y="457.10" width="4.20" height="16.21" fill="#6aad46" />
<text x="53.20" y="453.80" font-size="5.55" fill="#222" color="#222" transform="rotate(-90 53.20 453.80)">AML25</text>
<text x="51.70" y="475.31" font-size="6.0" text-anchor="end" fill="#333" color="#333" transform="rotate(-90 51.70 475.31)" style="stroke-width:0.05px">ns</text>
<rect x="54.07" y="457.10" width="3.30" height="65.82" fill="white" stroke="#7cb860" stroke-width="0.9" />
<text x="58.82" y="453.80" font-size="5.55" fill="#222" color="#222" transform="rotate(-90 58.82 453.80)">AML26</text>
<rect x="59.68" y="457.10" width="3.30" height="60.18" fill="white" stroke="#7cb860" stroke-width="0.9" />
<text x="64.43" y="453.80" font-size="5.55" fill="#222" color="#222" transform="rotate(-90 64.43 453.80)">AML25</text>
<rect x="64.84" y="457.10" width="4.20" height="66.27" fill="#6aad46" />
<text x="70.04" y="453.80" font-size="5.55" fill="#222" color="#222" transform="rotate(-90 70.04 453.80)">AML3</text>
<rect x="70.46" y="457.10" width="4.20" height="59.92" fill="#5fa2dc" />
<text x="75.66" y="453.80" font-size="5.55" fill="#222" color="#222" transform="rotate(-90 75.66 453.80)">AML32</text>
<rect x="76.53" y="457.10" width="3.30" height="58.06" fill="white" stroke="#7fb6e6" stroke-width="0.9" />
<text x="81.27" y="453.80" font-size="5.55" fill="#222" color="#222" transform="rotate(-90 81.27 453.80)">AML32</text>
<rect x="82.14" y="457.10" width="3.30" height="70.05" fill="white" stroke="#7cb860" stroke-width="0.9" />
<text x="86.89" y="453.80" font-size="5.55" fill="#222" color="#222" transform="rotate(-90 86.89 453.80)">AML38</text>
<rect x="87.76" y="457.10" width="3.30" height="67.93" fill="white" stroke="#7cb860" stroke-width="0.9" />
<text x="92.50" y="453.80" font-size="5.55" fill="#222" color="#222" transform="rotate(-90 92.50 453.80)">AML15</text>
<rect x="93.37" y="457.10" width="3.30" height="66.53" fill="white" stroke="#7fb6e6" stroke-width="0.9" />
<text x="98.12" y="453.80" font-size="5.55" fill="#222" color="#222" transform="rotate(-90 98.12 453.80)">AML24</text>
<text x="96.62" y="526.08" font-size="6.0" text-anchor="end" fill="#333" color="#333" transform="rotate(-90 96.62 526.08)" style="stroke-width:0.05px">ns</text>
<rect x="98.53" y="457.10" width="4.20" height="70.50" fill="#6aad46" />
<text x="103.73" y="453.80" font-size="5.55" fill="#222" color="#222" transform="rotate(-90 103.73 453.80)">AML21</text>
<rect x="104.60" y="457.10" width="3.30" height="63.00" fill="white" stroke="#7cb860" stroke-width="0.9" />
<text x="109.35" y="453.80" font-size="5.55" fill="#222" color="#222" transform="rotate(-90 109.35 453.80)">AML36</text>
<rect x="110.22" y="457.10" width="3.30" height="67.23" fill="white" stroke="#7cb860" stroke-width="0.9" />
<text x="114.96" y="453.80" font-size="5.55" fill="#222" color="#222" transform="rotate(-90 114.96 453.80)">AML21</text>
<rect x="115.83" y="457.10" width="3.30" height="36.21" fill="white" stroke="#7cb860" stroke-width="0.9" />
<text x="120.58" y="453.80" font-size="5.55" fill="#222" color="#222" transform="rotate(-90 120.58 453.80)">AML3</text>
<text x="119.08" y="495.76" font-size="6.0" text-anchor="end" fill="#333" color="#333" transform="rotate(-90 119.08 495.76)" style="stroke-width:0.05px">ns</text>
<rect x="121.45" y="457.10" width="3.30" height="54.54" fill="white" stroke="#7cb860" stroke-width="0.9" />
<text x="126.19" y="453.80" font-size="5.55" fill="#222" color="#222" transform="rotate(-90 126.19 453.80)">AML30</text>
<rect x="127.06" y="457.10" width="3.30" height="70.05" fill="white" stroke="#7cb860" stroke-width="0.9" />
<text x="131.81" y="453.80" font-size="5.55" fill="#222" color="#222" transform="rotate(-90 131.81 453.80)">AML8</text>
<rect x="132.23" y="457.10" width="4.20" height="70.50" fill="#6aad46" />
<text x="137.43" y="453.80" font-size="5.55" fill="#222" color="#222" transform="rotate(-90 137.43 453.80)">AML15</text>
<rect x="138.29" y="457.10" width="3.30" height="8.01" fill="white" stroke="#c8385a" stroke-width="0.9" />
<text x="143.04" y="453.80" font-size="5.55" fill="#222" color="#222" transform="rotate(-90 143.04 453.80)">AML16</text>
<text x="141.54" y="467.56" font-size="6.0" text-anchor="end" fill="#333" color="#333" transform="rotate(-90 141.54 467.56)" style="stroke-width:0.05px">ns</text>
<rect x="143.90" y="457.10" width="3.30" height="70.05" fill="white" stroke="#7cb860" stroke-width="0.9" />
<text x="148.65" y="453.80" font-size="5.55" fill="#222" color="#222" transform="rotate(-90 148.65 453.80)">AML37</text>
<rect x="149.07" y="457.10" width="4.20" height="5.64" fill="#b5122e" />
<text x="154.27" y="453.80" font-size="5.55" fill="#222" color="#222" transform="rotate(-90 154.27 453.80)">AML16</text>
<text x="152.77" y="464.74" font-size="6.0" text-anchor="end" fill="#333" color="#333" transform="rotate(-90 152.77 464.74)" style="stroke-width:0.05px">ns</text>
<rect x="154.69" y="457.10" width="4.20" height="66.98" fill="#6aad46" />
<text x="159.88" y="453.80" font-size="5.55" fill="#222" color="#222" transform="rotate(-90 159.88 453.80)">AML18</text>
<rect x="160.30" y="457.10" width="4.20" height="70.50" fill="#6aad46" />
<text x="165.50" y="453.80" font-size="5.55" fill="#222" color="#222" transform="rotate(-90 165.50 453.80)">AML137</text>
<rect x="165.92" y="457.10" width="4.20" height="64.15" fill="#6aad46" />
<text x="171.12" y="453.80" font-size="5.55" fill="#222" color="#222" transform="rotate(-90 171.12 453.80)">AML136</text>
<rect x="171.98" y="456.14" width="3.30" height="0.96" fill="white" stroke="#7fb6e6" stroke-width="0.9" />
<text x="176.73" y="453.80" font-size="5.55" fill="#222" color="#222" transform="rotate(-90 176.73 453.80)">AML19</text>
<text x="175.23" y="459.10" font-size="6.0" text-anchor="end" fill="#333" color="#333" transform="rotate(-90 175.23 459.10)" style="stroke-width:0.05px">ns</text>
<rect x="177.15" y="457.10" width="4.20" height="1.41" fill="#5fa2dc" />
<text x="182.34" y="453.80" font-size="5.55" fill="#222" color="#222" transform="rotate(-90 182.34 453.80)">AML19</text>
<text x="180.84" y="460.51" font-size="6.0" text-anchor="end" fill="#333" color="#333" transform="rotate(-90 180.84 460.51)" style="stroke-width:0.05px">ns</text>
<rect x="183.21" y="457.10" width="3.30" height="70.05" fill="white" stroke="#7cb860" stroke-width="0.9" />
<text x="187.96" y="453.80" font-size="5.55" fill="#222" color="#222" transform="rotate(-90 187.96 453.80)">AML34</text>
<rect x="188.82" y="457.10" width="3.30" height="57.36" fill="white" stroke="#7cb860" stroke-width="0.9" />
<text x="193.57" y="453.80" font-size="5.55" fill="#222" color="#222" transform="rotate(-90 193.57 453.80)">AML18</text>
<rect x="193.99" y="457.10" width="4.20" height="8.46" fill="#5fa2dc" />
<text x="199.19" y="453.80" font-size="5.55" fill="#222" color="#222" transform="rotate(-90 199.19 453.80)">AML2</text>
<text x="197.69" y="467.56" font-size="6.0" text-anchor="end" fill="#333" color="#333" transform="rotate(-90 197.69 467.56)" style="stroke-width:0.05px">ns</text>
<rect x="200.06" y="401.15" width="3.30" height="55.95" fill="white" stroke="#7fb6e6" stroke-width="0.9" />
<text x="204.81" y="474.50" font-size="5.55" fill="#222" color="#222" transform="rotate(-90 204.81 474.50)">AML2</text>
<ellipse cx="201.71" cy="396.70" rx="0.79" ry="0.65" fill="#2a2a2a"/>
<line x1="47.20" y1="457.10" x2="206.60" y2="457.10" stroke="#111" stroke-width="1.2" />
<line x1="55.40" y1="541.30" x2="192.00" y2="541.30" stroke="#333" stroke-width="0.9" />
<ellipse cx="112.84" cy="547.40" rx="1.06" ry="0.86" fill="#2a2a2a"/>
<text x="116.08" y="550.40" font-size="7.199999999999999" fill="#333" color="#333" textLength="6.72" lengthAdjust="spacingAndGlyphs" style="stroke-width:0.05px">to</text>
<ellipse cx="125.56" cy="547.40" rx="1.06" ry="0.86" fill="#2a2a2a"/>
<ellipse cx="128.80" cy="547.40" rx="1.06" ry="0.86" fill="#2a2a2a"/>
<ellipse cx="132.04" cy="547.40" rx="1.06" ry="0.86" fill="#2a2a2a"/>
<ellipse cx="135.28" cy="547.40" rx="1.06" ry="0.86" fill="#2a2a2a"/>
<rect x="54.15" y="390.95" width="4.90" height="3.80" fill="white" stroke="#7cb860" stroke-width="1.1" rx="0.6"/>
<rect x="53.60" y="401.20" width="6.00" height="4.90" fill="#6aad46" />
<text x="62.30" y="395.10" font-size="6.2" fill="#3a3a3a" color="#3a3a3a" style="stroke-width:0.05px">R</text>
<text x="62.30" y="405.90" font-size="6.2" fill="#3a3a3a" color="#3a3a3a" style="stroke-width:0.05px">R</text>
<rect x="72.05" y="390.95" width="4.90" height="3.80" fill="white" stroke="#7fb6e6" stroke-width="1.1" rx="0.6"/>
<rect x="71.50" y="401.20" width="6.00" height="4.90" fill="#5fa2dc" />
<text x="80.20" y="395.10" font-size="6.2" fill="#3a3a3a" color="#3a3a3a" style="stroke-width:0.05px">PR</text>
<text x="80.20" y="405.90" font-size="6.2" fill="#3a3a3a" color="#3a3a3a" style="stroke-width:0.05px">PR</text>
<rect x="91.15" y="390.95" width="4.90" height="3.80" fill="white" stroke="#c8385a" stroke-width="1.1" rx="0.6"/>
<rect x="90.60" y="401.20" width="6.00" height="4.90" fill="#b5122e" />
<text x="99.30" y="395.10" font-size="6.2" fill="#3a3a3a" color="#3a3a3a" style="stroke-width:0.05px">NR</text>
<text x="99.30" y="405.90" font-size="6.2" fill="#3a3a3a" color="#3a3a3a" style="stroke-width:0.05px">NR</text>
<text x="117.00" y="395.10" font-size="5.58" fill="#3a3a3a" color="#3a3a3a" style="stroke-width:0.05px">(RF)</text>
<text x="117.00" y="405.90" font-size="5.58" fill="#3a3a3a" color="#3a3a3a" style="stroke-width:0.05px">(BM)</text>
<text x="14.60" y="505.00" font-size="8.2" fill="#222" color="#222" textLength="97" lengthAdjust="spacingAndGlyphs" transform="rotate(-90 14.60 505.00)">Relative change of CD34+ cells</text>
<rect x="7.80" y="411.90" width="6.90" height="4.00" fill="#bcbcbc" />
<text x="26.20" y="493.00" font-size="8.2" fill="#222" color="#222" textLength="72" lengthAdjust="spacingAndGlyphs" transform="rotate(-90 26.20 493.00)">in mouse bone marrow</text>
<line x1="283.90" y1="239.00" x2="283.90" y2="306.50" stroke="#111" stroke-width="1.1" />
<line x1="283.90" y1="216.30" x2="283.90" y2="234.10" stroke="#111" stroke-width="1.1" />
<line x1="281.20" y1="239.00" x2="283.90" y2="239.00" stroke="#111" stroke-width="1.0" />
<line x1="281.20" y1="233.80" x2="285.60" y2="233.80" stroke="#111" stroke-width="1.0" />
<line x1="281.20" y1="293.04" x2="283.90" y2="293.04" stroke="#111" stroke-width="1.0" />
<line x1="281.20" y1="279.58" x2="283.90" y2="279.58" stroke="#111" stroke-width="1.0" />
<line x1="281.20" y1="266.12" x2="283.90" y2="266.12" stroke="#111" stroke-width="1.0" />
<line x1="281.20" y1="252.66" x2="283.90" y2="252.66" stroke="#111" stroke-width="1.0" />
<line x1="281.20" y1="219.40" x2="283.90" y2="219.40" stroke="#111" stroke-width="1.0" />
<line x1="281.20" y1="224.50" x2="283.90" y2="224.50" stroke="#111" stroke-width="1.0" />
<line x1="281.20" y1="229.40" x2="283.90" y2="229.40" stroke="#111" stroke-width="1.0" />
<text x="278.30" y="308.90" font-size="6.8" text-anchor="end" fill="#222" color="#222">0</text>
<text x="278.30" y="295.44" font-size="6.8" text-anchor="end" fill="#222" color="#222">1</text>
<text x="278.30" y="281.98" font-size="6.8" text-anchor="end" fill="#222" color="#222">2</text>
<text x="278.30" y="268.52" font-size="6.8" text-anchor="end" fill="#222" color="#222">3</text>
<text x="278.30" y="255.06" font-size="6.8" text-anchor="end" fill="#222" color="#222">4</text>
<text x="278.00" y="242.50" font-size="6.6" text-anchor="end" fill="#222" color="#222">5</text>
<text x="277.80" y="219.70" font-size="6.4" text-anchor="end" fill="#222" color="#222">605</text>
<text x="277.80" y="224.60" font-size="6.4" text-anchor="end" fill="#222" color="#222">405</text>
<text x="277.80" y="229.60" font-size="6.4" text-anchor="end" fill="#222" color="#222">205</text>
<text x="277.80" y="236.00" font-size="6.4" text-anchor="end" fill="#222" color="#222">5</text>
<line x1="280.80" y1="306.50" x2="512.30" y2="306.50" stroke="#111" stroke-width="1.2" />
<rect x="286.00" y="239.00" width="3.30" height="67.50" fill="#2f6249" />
<rect x="286.00" y="232.90" width="3.30" height="1.00" fill="#2f6249" />
<rect x="289.60" y="299.77" width="3.30" height="6.73" fill="#9c429a" />
<line x1="291.25" y1="298.42" x2="291.25" y2="299.77" stroke="#9c429a" stroke-width="0.6" />
<line x1="290.10" y1="298.42" x2="292.40" y2="298.42" stroke="#9c429a" stroke-width="0.6" />
<line x1="289.45" y1="306.50" x2="289.45" y2="309.40" stroke="#111" stroke-width="0.9" />
<text x="290.95" y="315.00" font-size="6.5" text-anchor="end" fill="#1a1a1a" color="#1a1a1a" transform="rotate(-45 290.95 315.00)" style="stroke-width:0.2px">AML25 RF</text>
<rect x="296.83" y="239.00" width="3.30" height="67.50" fill="#2f6249" />
<rect x="296.83" y="232.90" width="3.30" height="1.00" fill="#2f6249" />
<rect x="300.43" y="301.79" width="3.30" height="4.71" fill="#9c429a" />
<line x1="302.08" y1="301.12" x2="302.08" y2="301.79" stroke="#9c429a" stroke-width="0.6" />
<line x1="300.93" y1="301.12" x2="303.23" y2="301.12" stroke="#9c429a" stroke-width="0.6" />
<line x1="300.28" y1="306.50" x2="300.28" y2="309.40" stroke="#111" stroke-width="0.9" />
<text x="301.78" y="315.00" font-size="6.5" text-anchor="end" fill="#1a1a1a" color="#1a1a1a" transform="rotate(-45 301.78 315.00)" style="stroke-width:0.2px">AML25 BM</text>
<rect x="307.66" y="280.93" width="3.30" height="25.57" fill="#2f6249" />
<line x1="309.31" y1="276.21" x2="309.31" y2="280.93" stroke="#2f6249" stroke-width="0.6" />
<line x1="308.16" y1="276.21" x2="310.46" y2="276.21" stroke="#2f6249" stroke-width="0.6" />
<rect x="311.26" y="301.79" width="3.30" height="4.71" fill="#9c429a" />
<line x1="312.91" y1="300.44" x2="312.91" y2="301.79" stroke="#9c429a" stroke-width="0.6" />
<line x1="311.76" y1="300.44" x2="314.06" y2="300.44" stroke="#9c429a" stroke-width="0.6" />
<line x1="311.11" y1="306.50" x2="311.11" y2="309.40" stroke="#111" stroke-width="0.9" />
<text x="312.61" y="315.00" font-size="6.5" text-anchor="end" fill="#1a1a1a" color="#1a1a1a" transform="rotate(-45 312.61 315.00)" style="stroke-width:0.2px">AML18 RF</text>
<rect x="318.49" y="289.00" width="3.30" height="17.50" fill="#2f6249" />
<line x1="320.14" y1="284.96" x2="320.14" y2="289.00" stroke="#2f6249" stroke-width="0.6" />
<line x1="318.99" y1="284.96" x2="321.29" y2="284.96" stroke="#2f6249" stroke-width="0.6" />
<rect x="322.09" y="303.81" width="3.30" height="2.69" fill="#9c429a" />
<line x1="323.74" y1="303.13" x2="323.74" y2="303.81" stroke="#9c429a" stroke-width="0.6" />
<line x1="322.59" y1="303.13" x2="324.89" y2="303.13" stroke="#9c429a" stroke-width="0.6" />
<line x1="321.94" y1="306.50" x2="321.94" y2="309.40" stroke="#111" stroke-width="0.9" />
<text x="323.44" y="315.00" font-size="6.5" text-anchor="end" fill="#1a1a1a" color="#1a1a1a" transform="rotate(-45 323.44 315.00)" style="stroke-width:0.2px">AML18 BM</text>
<rect x="329.32" y="239.00" width="3.30" height="67.50" fill="#2f6249" />
<rect x="329.32" y="232.90" width="3.30" height="1.00" fill="#2f6249" />
<rect x="332.92" y="258.04" width="3.30" height="48.46" fill="#9c429a" />
<line x1="334.57" y1="249.97" x2="334.57" y2="258.04" stroke="#9c429a" stroke-width="0.6" />
<line x1="333.42" y1="249.97" x2="335.72" y2="249.97" stroke="#9c429a" stroke-width="0.6" />
<line x1="332.77" y1="306.50" x2="332.77" y2="309.40" stroke="#111" stroke-width="0.9" />
<text x="334.27" y="315.00" font-size="6.5" text-anchor="end" fill="#1a1a1a" color="#1a1a1a" transform="rotate(-45 334.27 315.00)" style="stroke-width:0.2px">AML6 RF (PR)</text>
<rect x="340.15" y="239.00" width="3.30" height="67.50" fill="#2f6249" />
<rect x="340.15" y="232.90" width="3.30" height="1.00" fill="#2f6249" />
<rect x="343.75" y="301.79" width="3.30" height="4.71" fill="#9c429a" />
<line x1="345.40" y1="301.12" x2="345.40" y2="301.79" stroke="#9c429a" stroke-width="0.6" />
<line x1="344.25" y1="301.12" x2="346.55" y2="301.12" stroke="#9c429a" stroke-width="0.6" />
<line x1="343.60" y1="306.50" x2="343.60" y2="309.40" stroke="#111" stroke-width="0.9" />
<text x="345.10" y="315.00" font-size="6.5" text-anchor="end" fill="#1a1a1a" color="#1a1a1a" transform="rotate(-45 345.10 315.00)" style="stroke-width:0.2px">AML6 BM (PR)</text>
<rect x="350.98" y="239.00" width="3.30" height="67.50" fill="#2f6249" />
<rect x="350.98" y="232.90" width="3.30" height="1.00" fill="#2f6249" />
<rect x="354.58" y="293.71" width="3.30" height="12.79" fill="#9c429a" />
<line x1="356.23" y1="289.68" x2="356.23" y2="293.71" stroke="#9c429a" stroke-width="0.6" />
<line x1="355.08" y1="289.68" x2="357.38" y2="289.68" stroke="#9c429a" stroke-width="0.6" />
<line x1="354.43" y1="306.50" x2="354.43" y2="309.40" stroke="#111" stroke-width="0.9" />
<text x="355.93" y="315.00" font-size="6.5" text-anchor="end" fill="#1a1a1a" color="#1a1a1a" transform="rotate(-45 355.93 315.00)" style="stroke-width:0.2px">AML28 RF (PR)</text>
<rect x="361.81" y="239.00" width="3.30" height="67.50" fill="#2f6249" />
<rect x="361.81" y="232.90" width="3.30" height="1.00" fill="#2f6249" />
<rect x="365.41" y="286.98" width="3.30" height="19.52" fill="#9c429a" />
<line x1="367.06" y1="282.94" x2="367.06" y2="286.98" stroke="#9c429a" stroke-width="0.6" />
<line x1="365.91" y1="282.94" x2="368.21" y2="282.94" stroke="#9c429a" stroke-width="0.6" />
<line x1="365.26" y1="306.50" x2="365.26" y2="309.40" stroke="#111" stroke-width="0.9" />
<text x="366.76" y="315.00" font-size="6.5" text-anchor="end" fill="#1a1a1a" color="#1a1a1a" transform="rotate(-45 366.76 315.00)" style="stroke-width:0.2px">AML28 BM (PR)</text>
<rect x="372.64" y="239.00" width="3.30" height="67.50" fill="#2f6249" />
<rect x="372.64" y="231.85" width="3.30" height="2.05" fill="#2f6249" />
<line x1="374.29" y1="230.65" x2="374.29" y2="231.85" stroke="#2f6249" stroke-width="0.6" />
<line x1="373.04" y1="230.65" x2="375.54" y2="230.65" stroke="#2f6249" stroke-width="0.6" />
<rect x="376.24" y="266.12" width="3.30" height="40.38" fill="#9c429a" />
<line x1="377.89" y1="256.02" x2="377.89" y2="266.12" stroke="#9c429a" stroke-width="0.6" />
<line x1="376.74" y1="256.02" x2="379.04" y2="256.02" stroke="#9c429a" stroke-width="0.6" />
<line x1="376.09" y1="306.50" x2="376.09" y2="309.40" stroke="#111" stroke-width="0.9" />
<text x="377.59" y="315.00" font-size="6.5" text-anchor="end" fill="#1a1a1a" color="#1a1a1a" transform="rotate(-45 377.59 315.00)" style="stroke-width:0.2px">AML3 RF</text>
<rect x="383.47" y="239.00" width="3.30" height="67.50" fill="#2f6249" />
<rect x="383.47" y="218.31" width="3.30" height="15.59" fill="#2f6249" />
<line x1="385.12" y1="217.11" x2="385.12" y2="218.31" stroke="#2f6249" stroke-width="0.6" />
<line x1="383.87" y1="217.11" x2="386.37" y2="217.11" stroke="#2f6249" stroke-width="0.6" />
<rect x="387.07" y="239.00" width="3.30" height="67.50" fill="#9c429a" />
<rect x="387.07" y="232.90" width="3.30" height="1.00" fill="#9c429a" />
<line x1="386.92" y1="306.50" x2="386.92" y2="309.40" stroke="#111" stroke-width="0.9" />
<text x="388.42" y="315.00" font-size="6.5" text-anchor="end" fill="#1a1a1a" color="#1a1a1a" transform="rotate(-45 388.42 315.00)" style="stroke-width:0.2px">AML2 RF (PR)</text>
<rect x="394.30" y="296.14" width="3.30" height="10.36" fill="#2f6249" />
<line x1="395.95" y1="292.50" x2="395.95" y2="296.14" stroke="#2f6249" stroke-width="0.6" />
<line x1="394.80" y1="292.50" x2="397.10" y2="292.50" stroke="#2f6249" stroke-width="0.6" />
<rect x="397.90" y="304.48" width="3.30" height="2.02" fill="#9c429a" />
<line x1="399.55" y1="303.81" x2="399.55" y2="304.48" stroke="#9c429a" stroke-width="0.6" />
<line x1="398.40" y1="303.81" x2="400.70" y2="303.81" stroke="#9c429a" stroke-width="0.6" />
<line x1="397.75" y1="306.50" x2="397.75" y2="309.40" stroke="#111" stroke-width="0.9" />
<text x="399.25" y="315.00" font-size="6.5" text-anchor="end" fill="#1a1a1a" color="#1a1a1a" transform="rotate(-45 399.25 315.00)" style="stroke-width:0.2px">AML30 RF</text>
<rect x="405.13" y="294.39" width="3.30" height="12.11" fill="#2f6249" />
<line x1="406.78" y1="290.35" x2="406.78" y2="294.39" stroke="#2f6249" stroke-width="0.6" />
<line x1="405.63" y1="290.35" x2="407.93" y2="290.35" stroke="#2f6249" stroke-width="0.6" />
<rect x="408.73" y="304.48" width="3.30" height="2.02" fill="#9c429a" />
<line x1="410.38" y1="304.08" x2="410.38" y2="304.48" stroke="#9c429a" stroke-width="0.6" />
<line x1="409.23" y1="304.08" x2="411.53" y2="304.08" stroke="#9c429a" stroke-width="0.6" />
<line x1="408.58" y1="306.50" x2="408.58" y2="309.40" stroke="#111" stroke-width="0.9" />
<text x="410.08" y="315.00" font-size="6.5" text-anchor="end" fill="#1a1a1a" color="#1a1a1a" transform="rotate(-45 410.08 315.00)" style="stroke-width:0.2px">AML30 BM</text>
<rect x="415.96" y="296.40" width="3.30" height="10.10" fill="#2f6249" />
<line x1="417.61" y1="295.06" x2="417.61" y2="296.40" stroke="#2f6249" stroke-width="0.6" />
<line x1="416.46" y1="295.06" x2="418.76" y2="295.06" stroke="#2f6249" stroke-width="0.6" />
<rect x="419.56" y="304.88" width="3.30" height="1.62" fill="#9c429a" />
<line x1="421.21" y1="304.48" x2="421.21" y2="304.88" stroke="#9c429a" stroke-width="0.6" />
<line x1="420.06" y1="304.48" x2="422.36" y2="304.48" stroke="#9c429a" stroke-width="0.6" />
<line x1="419.41" y1="306.50" x2="419.41" y2="309.40" stroke="#111" stroke-width="0.9" />
<text x="420.91" y="315.00" font-size="6.5" text-anchor="end" fill="#1a1a1a" color="#1a1a1a" transform="rotate(-45 420.91 315.00)" style="stroke-width:0.2px">AML4 RF (PR)</text>
<rect x="426.79" y="297.08" width="3.30" height="9.42" fill="#2f6249" />
<line x1="428.44" y1="294.39" x2="428.44" y2="297.08" stroke="#2f6249" stroke-width="0.6" />
<line x1="427.29" y1="294.39" x2="429.59" y2="294.39" stroke="#2f6249" stroke-width="0.6" />
<rect x="430.39" y="303.81" width="3.30" height="2.69" fill="#9c429a" />
<line x1="432.04" y1="303.54" x2="432.04" y2="303.81" stroke="#9c429a" stroke-width="0.6" />
<line x1="430.89" y1="303.54" x2="433.19" y2="303.54" stroke="#9c429a" stroke-width="0.6" />
<line x1="430.24" y1="306.50" x2="430.24" y2="309.40" stroke="#111" stroke-width="0.9" />
<text x="431.74" y="315.00" font-size="6.5" text-anchor="end" fill="#1a1a1a" color="#1a1a1a" transform="rotate(-45 431.74 315.00)" style="stroke-width:0.2px">AML4 BM (PR)</text>
<rect x="437.62" y="293.71" width="3.30" height="12.79" fill="#2f6249" />
<line x1="439.27" y1="291.02" x2="439.27" y2="293.71" stroke="#2f6249" stroke-width="0.6" />
<line x1="438.12" y1="291.02" x2="440.42" y2="291.02" stroke="#2f6249" stroke-width="0.6" />
<rect x="441.22" y="292.37" width="3.30" height="14.13" fill="#9c429a" />
<line x1="442.87" y1="287.66" x2="442.87" y2="292.37" stroke="#9c429a" stroke-width="0.6" />
<line x1="441.72" y1="287.66" x2="444.02" y2="287.66" stroke="#9c429a" stroke-width="0.6" />
<line x1="441.07" y1="306.50" x2="441.07" y2="309.40" stroke="#111" stroke-width="0.9" />
<text x="442.57" y="315.00" font-size="6.5" text-anchor="end" fill="#1a1a1a" color="#1a1a1a" transform="rotate(-45 442.57 315.00)" style="stroke-width:0.2px">AML32 RF (PR)</text>
<rect x="448.45" y="285.64" width="3.30" height="20.86" fill="#2f6249" />
<line x1="450.10" y1="279.58" x2="450.10" y2="285.64" stroke="#2f6249" stroke-width="0.6" />
<line x1="448.95" y1="279.58" x2="451.25" y2="279.58" stroke="#2f6249" stroke-width="0.6" />
<rect x="452.05" y="290.35" width="3.30" height="16.15" fill="#9c429a" />
<line x1="453.70" y1="285.64" x2="453.70" y2="290.35" stroke="#9c429a" stroke-width="0.6" />
<line x1="452.55" y1="285.64" x2="454.85" y2="285.64" stroke="#9c429a" stroke-width="0.6" />
<line x1="451.90" y1="306.50" x2="451.90" y2="309.40" stroke="#111" stroke-width="0.9" />
<text x="453.40" y="315.00" font-size="6.5" text-anchor="end" fill="#1a1a1a" color="#1a1a1a" transform="rotate(-45 453.40 315.00)" style="stroke-width:0.2px">AML32 BM (PR)</text>
<rect x="459.28" y="239.00" width="3.30" height="67.50" fill="#2f6249" />
<rect x="459.28" y="232.10" width="3.30" height="1.80" fill="#2f6249" />
<rect x="462.88" y="239.00" width="3.30" height="67.50" fill="#9c429a" />
<rect x="462.88" y="232.30" width="3.30" height="1.60" fill="#9c429a" />
<line x1="462.73" y1="306.50" x2="462.73" y2="309.40" stroke="#111" stroke-width="0.9" />
<text x="464.23" y="315.00" font-size="6.5" text-anchor="end" fill="#1a1a1a" color="#1a1a1a" transform="rotate(-45 464.23 315.00)" style="stroke-width:0.2px">AML35 RF (PR)</text>
<rect x="470.11" y="239.00" width="3.30" height="67.50" fill="#2f6249" />
<rect x="470.11" y="231.42" width="3.30" height="2.48" fill="#2f6249" />
<line x1="471.76" y1="230.22" x2="471.76" y2="231.42" stroke="#2f6249" stroke-width="0.6" />
<line x1="470.51" y1="230.22" x2="473.01" y2="230.22" stroke="#2f6249" stroke-width="0.6" />
<rect x="473.71" y="239.00" width="3.30" height="67.50" fill="#9c429a" />
<rect x="473.71" y="225.86" width="3.30" height="8.04" fill="#9c429a" />
<line x1="475.36" y1="224.66" x2="475.36" y2="225.86" stroke="#9c429a" stroke-width="0.6" />
<line x1="474.11" y1="224.66" x2="476.61" y2="224.66" stroke="#9c429a" stroke-width="0.6" />
<line x1="473.56" y1="306.50" x2="473.56" y2="309.40" stroke="#111" stroke-width="0.9" />
<text x="475.06" y="315.00" font-size="6.5" text-anchor="end" fill="#1a1a1a" color="#1a1a1a" transform="rotate(-45 475.06 315.00)" style="stroke-width:0.2px">AML19 RF (PR)</text>
<rect x="480.94" y="239.00" width="3.30" height="67.50" fill="#2f6249" />
<rect x="480.94" y="232.90" width="3.30" height="1.00" fill="#2f6249" />
<rect x="484.54" y="239.00" width="3.30" height="67.50" fill="#9c429a" />
<rect x="484.54" y="232.50" width="3.30" height="1.40" fill="#9c429a" />
<line x1="484.39" y1="306.50" x2="484.39" y2="309.40" stroke="#111" stroke-width="0.9" />
<text x="485.89" y="315.00" font-size="6.5" text-anchor="end" fill="#1a1a1a" color="#1a1a1a" transform="rotate(-45 485.89 315.00)" style="stroke-width:0.2px">AML19 BM (PR)</text>
<rect x="491.77" y="280.25" width="3.30" height="26.25" fill="#2f6249" />
<line x1="493.42" y1="274.87" x2="493.42" y2="280.25" stroke="#2f6249" stroke-width="0.6" />
<line x1="492.27" y1="274.87" x2="494.57" y2="274.87" stroke="#2f6249" stroke-width="0.6" />
<rect x="495.37" y="239.00" width="3.30" height="67.50" fill="#9c429a" />
<rect x="495.37" y="232.70" width="3.30" height="1.20" fill="#9c429a" />
<line x1="495.22" y1="306.50" x2="495.22" y2="309.40" stroke="#111" stroke-width="0.9" />
<text x="496.72" y="315.00" font-size="6.5" text-anchor="end" fill="#1a1a1a" color="#1a1a1a" transform="rotate(-45 496.72 315.00)" style="stroke-width:0.2px">AML27 RF</text>
<rect x="502.60" y="279.18" width="3.30" height="27.32" fill="#2f6249" />
<line x1="504.25" y1="272.18" x2="504.25" y2="279.18" stroke="#2f6249" stroke-width="0.6" />
<line x1="503.10" y1="272.18" x2="505.40" y2="272.18" stroke="#2f6249" stroke-width="0.6" />
<rect x="506.20" y="255.35" width="3.30" height="51.15" fill="#9c429a" />
<line x1="507.85" y1="245.93" x2="507.85" y2="255.35" stroke="#9c429a" stroke-width="0.6" />
<line x1="506.70" y1="245.93" x2="509.00" y2="245.93" stroke="#9c429a" stroke-width="0.6" />
<line x1="506.05" y1="306.50" x2="506.05" y2="309.40" stroke="#111" stroke-width="0.9" />
<text x="507.55" y="315.00" font-size="6.5" text-anchor="end" fill="#1a1a1a" color="#1a1a1a" transform="rotate(-45 507.55 315.00)" style="stroke-width:0.2px">AML27 BM</text>
<text x="396.00" y="290.80" font-size="6.0" text-anchor="middle" fill="#222" color="#222">ns</text>
<ellipse cx="474.15" cy="219.30" rx="0.94" ry="0.77" fill="#2a2a2a"/>
<ellipse cx="477.05" cy="219.30" rx="0.94" ry="0.77" fill="#2a2a2a"/>
<ellipse cx="495.45" cy="222.00" rx="0.94" ry="0.77" fill="#2a2a2a"/>
<ellipse cx="498.35" cy="222.00" rx="0.94" ry="0.77" fill="#2a2a2a"/>
<line x1="288.30" y1="214.70" x2="433.00" y2="214.70" stroke="#555" stroke-width="1.1" />
<ellipse cx="349.61" cy="209.03" rx="1.01" ry="0.83" fill="#2a2a2a"/>
<text x="352.71" y="211.90" font-size="6.8999999999999995" fill="#333" color="#333" textLength="6.44" lengthAdjust="spacingAndGlyphs" style="stroke-width:0.05px">to</text>
<ellipse cx="361.80" cy="209.03" rx="1.01" ry="0.83" fill="#2a2a2a"/>
<ellipse cx="364.90" cy="209.03" rx="1.01" ry="0.83" fill="#2a2a2a"/>
<ellipse cx="368.00" cy="209.03" rx="1.01" ry="0.83" fill="#2a2a2a"/>
<ellipse cx="371.11" cy="209.03" rx="1.01" ry="0.83" fill="#2a2a2a"/>
<line x1="436.60" y1="214.70" x2="511.80" y2="214.70" stroke="#555" stroke-width="1.1" />
<text x="474.00" y="212.50" font-size="6.8" text-anchor="middle" fill="#222" color="#222">ns</text>
<rect x="412.00" y="243.90" width="3.80" height="3.40" fill="#2f6249" />
<text x="418.50" y="247.80" font-size="6.6" fill="#222" color="#222" textLength="17.7" lengthAdjust="spacingAndGlyphs">Vehicle</text>
<rect x="412.00" y="252.00" width="3.80" height="3.40" fill="#9c429a" />
<text x="418.50" y="255.90" font-size="6.6" fill="#222" color="#222" textLength="24.5" lengthAdjust="spacingAndGlyphs">CC-90009</text>
<text x="261.50" y="296.80" font-size="8.3" fill="#222" color="#222" textLength="70" lengthAdjust="spacingAndGlyphs" transform="rotate(-90 261.50 296.80)">Absolute LSC numbers</text>
<line x1="283.00" y1="410.60" x2="283.00" y2="440.40" stroke="#111" stroke-width="1.1" />
<line x1="283.00" y1="440.30" x2="286.20" y2="440.30" stroke="#111" stroke-width="1.0" />
<line x1="280.30" y1="440.20" x2="283.00" y2="440.20" stroke="#111" stroke-width="1.0" />
<text x="278.60" y="442.50" font-size="6.6" text-anchor="end" fill="#222" color="#222">500</text>
<line x1="280.30" y1="431.30" x2="283.00" y2="431.30" stroke="#111" stroke-width="1.0" />
<text x="278.60" y="433.60" font-size="6.6" text-anchor="end" fill="#222" color="#222">1000</text>
<line x1="280.30" y1="422.40" x2="283.00" y2="422.40" stroke="#111" stroke-width="1.0" />
<text x="278.60" y="424.70" font-size="6.6" text-anchor="end" fill="#222" color="#222">1500</text>
<line x1="280.30" y1="413.50" x2="283.00" y2="413.50" stroke="#111" stroke-width="1.0" />
<text x="278.60" y="415.80" font-size="6.6" text-anchor="end" fill="#222" color="#222">2000</text>
<line x1="281.30" y1="435.75" x2="283.00" y2="435.75" stroke="#111" stroke-width="0.8" />
<line x1="281.30" y1="426.85" x2="283.00" y2="426.85" stroke="#111" stroke-width="0.8" />
<line x1="281.30" y1="417.95" x2="283.00" y2="417.95" stroke="#111" stroke-width="0.8" />
<line x1="284.20" y1="450.60" x2="284.20" y2="532.00" stroke="#111" stroke-width="1.1" />
<line x1="284.20" y1="450.90" x2="286.60" y2="450.90" stroke="#111" stroke-width="1.0" />
<line x1="281.40" y1="451.10" x2="284.20" y2="451.10" stroke="#111" stroke-width="1.0" />
<text x="279.00" y="453.40" font-size="6.6" text-anchor="end" fill="#222" color="#222">100</text>
<line x1="281.40" y1="471.05" x2="284.20" y2="471.05" stroke="#111" stroke-width="1.0" />
<text x="279.00" y="473.35" font-size="6.6" text-anchor="end" fill="#222" color="#222">50</text>
<line x1="281.40" y1="491.00" x2="284.20" y2="491.00" stroke="#111" stroke-width="1.0" />
<text x="279.00" y="493.30" font-size="6.6" text-anchor="end" fill="#222" color="#222">0</text>
<line x1="281.40" y1="510.95" x2="284.20" y2="510.95" stroke="#111" stroke-width="1.0" />
<text x="279.00" y="513.25" font-size="6.6" text-anchor="end" fill="#222" color="#222">-50</text>
<line x1="281.40" y1="530.90" x2="284.20" y2="530.90" stroke="#111" stroke-width="1.0" />
<text x="279.00" y="533.20" font-size="6.6" text-anchor="end" fill="#222" color="#222">-100</text>
<rect x="285.85" y="491.00" width="5.70" height="38.65" fill="white" stroke="#7cb860" stroke-width="0.9" />
<text x="290.28" y="487.80" font-size="5.4" fill="#222" color="#222" transform="rotate(-90 290.28 487.80)">AML25</text>
<rect x="294.49" y="491.00" width="6.60" height="39.10" fill="#6aad46" />
<text x="299.33" y="487.80" font-size="5.4" fill="#222" color="#222" transform="rotate(-90 299.33 487.80)">AML25</text>
<rect x="304.03" y="491.00" width="5.70" height="33.86" fill="white" stroke="#7cb860" stroke-width="0.9" />
<text x="308.37" y="487.80" font-size="5.4" fill="#222" color="#222" transform="rotate(-90 308.37 487.80)">AML18</text>
<rect x="312.67" y="491.00" width="6.60" height="35.91" fill="#6aad46" />
<text x="317.42" y="487.80" font-size="5.4" fill="#222" color="#222" transform="rotate(-90 317.42 487.80)">AML18</text>
<rect x="322.21" y="491.00" width="5.70" height="25.48" fill="white" stroke="#7fb6e6" stroke-width="0.9" />
<text x="326.47" y="487.80" font-size="5.4" fill="#222" color="#222" transform="rotate(-90 326.47 487.80)">AML6</text>
<rect x="330.85" y="491.00" width="6.60" height="38.70" fill="#5fa2dc" />
<text x="335.52" y="487.80" font-size="5.4" fill="#222" color="#222" transform="rotate(-90 335.52 487.80)">AML6</text>
<rect x="340.39" y="491.00" width="5.70" height="30.27" fill="white" stroke="#7fb6e6" stroke-width="0.9" />
<text x="344.56" y="487.80" font-size="5.4" fill="#222" color="#222" transform="rotate(-90 344.56 487.80)">AML28</text>
<rect x="349.03" y="491.00" width="6.60" height="36.31" fill="#5fa2dc" />
<text x="353.61" y="487.80" font-size="5.4" fill="#222" color="#222" transform="rotate(-90 353.61 487.80)">AML28</text>
<rect x="358.57" y="491.00" width="5.70" height="38.25" fill="white" stroke="#7cb860" stroke-width="0.9" />
<text x="362.66" y="487.80" font-size="5.4" fill="#222" color="#222" transform="rotate(-90 362.66 487.80)">AML3</text>
<rect x="367.66" y="491.00" width="5.70" height="38.25" fill="white" stroke="#7fb6e6" stroke-width="0.9" />
<text x="371.70" y="487.80" font-size="5.4" fill="#222" color="#222" transform="rotate(-90 371.70 487.80)">AML2</text>
<rect x="376.75" y="491.00" width="5.70" height="28.68" fill="white" stroke="#7cb860" stroke-width="0.9" />
<text x="380.75" y="487.80" font-size="5.4" fill="#222" color="#222" transform="rotate(-90 380.75 487.80)">AML30</text>
<rect x="385.39" y="491.00" width="6.60" height="33.91" fill="#6aad46" />
<text x="389.80" y="487.80" font-size="5.4" fill="#222" color="#222" transform="rotate(-90 389.80 487.80)">AML30</text>
<rect x="394.93" y="491.00" width="5.70" height="29.08" fill="white" stroke="#7fb6e6" stroke-width="0.9" />
<text x="398.84" y="487.80" font-size="5.4" fill="#222" color="#222" transform="rotate(-90 398.84 487.80)">AML4</text>
<rect x="403.57" y="491.00" width="6.60" height="27.93" fill="#5fa2dc" />
<text x="407.89" y="487.80" font-size="5.4" fill="#222" color="#222" transform="rotate(-90 407.89 487.80)">AML4</text>
<rect x="413.11" y="491.00" width="5.70" height="10.72" fill="white" stroke="#7fb6e6" stroke-width="0.9" />
<text x="416.94" y="487.80" font-size="5.4" fill="#222" color="#222" transform="rotate(-90 416.94 487.80)">AML32</text>
<rect x="421.75" y="491.00" width="6.60" height="10.77" fill="#5fa2dc" />
<text x="425.99" y="487.80" font-size="5.4" fill="#222" color="#222" transform="rotate(-90 425.99 487.80)">AML32</text>
<text x="435.03" y="487.80" font-size="5.4" fill="#222" color="#222" transform="rotate(-90 435.03 487.80)">AML35</text>
<line x1="440.38" y1="450.90" x2="440.38" y2="491.00" stroke="#7fb6e6" stroke-width="0.9" />
<line x1="446.08" y1="450.90" x2="446.08" y2="491.00" stroke="#7fb6e6" stroke-width="0.9" />
<path d="M440.38,440.6 L440.38,438.87 L446.08,438.87 L446.08,440.6" fill="none" stroke="#7fb6e6" stroke-width="0.9"/>
<text x="444.08" y="494.00" font-size="5.4" text-anchor="end" fill="#222" color="#222" transform="rotate(-90 444.08 494.00)">AML19</text>
<rect x="449.02" y="453.89" width="6.60" height="37.11" fill="#5fa2dc" />
<text x="453.13" y="494.00" font-size="5.4" text-anchor="end" fill="#222" color="#222" transform="rotate(-90 453.13 494.00)">AML19</text>
<line x1="458.56" y1="450.90" x2="458.56" y2="491.00" stroke="#7cb860" stroke-width="0.9" />
<line x1="464.26" y1="450.90" x2="464.26" y2="491.00" stroke="#7cb860" stroke-width="0.9" />
<path d="M458.56,440.6 L458.56,426.94 L464.26,426.94 L464.26,440.6" fill="none" stroke="#7cb860" stroke-width="0.9"/>
<text x="462.17" y="494.00" font-size="5.4" text-anchor="end" fill="#222" color="#222" transform="rotate(-90 462.17 494.00)">AML27</text>
<rect x="467.20" y="450.90" width="6.60" height="40.10" fill="#6aad46" />
<rect x="467.20" y="439.40" width="6.60" height="1.00" fill="#6aad46" />
<text x="471.22" y="494.00" font-size="5.4" text-anchor="end" fill="#222" color="#222" transform="rotate(-90 471.22 494.00)">AML27</text>
<line x1="284.20" y1="491.00" x2="477.00" y2="491.00" stroke="#111" stroke-width="1.2" />
<ellipse cx="441.75" cy="422.80" rx="1.10" ry="0.90" fill="#2a2a2a"/>
<ellipse cx="444.95" cy="422.80" rx="1.10" ry="0.90" fill="#2a2a2a"/>
<ellipse cx="459.85" cy="419.40" rx="1.10" ry="0.90" fill="#2a2a2a"/>
<ellipse cx="462.95" cy="419.40" rx="1.10" ry="0.90" fill="#2a2a2a"/>
<line x1="285.80" y1="408.30" x2="405.00" y2="408.30" stroke="#333" stroke-width="1.1" />
<ellipse cx="332.33" cy="401.65" rx="1.04" ry="0.85" fill="#2a2a2a"/>
<text x="335.51" y="404.60" font-size="7.08" fill="#333" color="#333" textLength="6.61" lengthAdjust="spacingAndGlyphs" style="stroke-width:0.05px">to</text>
<ellipse cx="344.83" cy="401.65" rx="1.04" ry="0.85" fill="#2a2a2a"/>
<ellipse cx="348.02" cy="401.65" rx="1.04" ry="0.85" fill="#2a2a2a"/>
<ellipse cx="351.21" cy="401.65" rx="1.04" ry="0.85" fill="#2a2a2a"/>
<ellipse cx="354.39" cy="401.65" rx="1.04" ry="0.85" fill="#2a2a2a"/>
<line x1="412.00" y1="408.40" x2="477.00" y2="408.40" stroke="#333" stroke-width="1.1" />
<text x="444.60" y="405.40" font-size="6.4" text-anchor="middle" fill="#222" color="#222">ns</text>
<rect x="292.75" y="420.90" width="4.50" height="3.50" fill="white" stroke="#7cb860" stroke-width="0.9" />
<rect x="292.30" y="430.90" width="5.40" height="4.60" fill="#6aad46" />
<text x="301.20" y="425.20" font-size="6.2" fill="#333" color="#333">R</text>
<text x="301.20" y="435.40" font-size="6.2" fill="#333" color="#333">R</text>
<rect x="312.55" y="420.90" width="4.50" height="3.50" fill="white" stroke="#7fb6e6" stroke-width="0.9" />
<rect x="312.10" y="430.90" width="5.40" height="4.60" fill="#5fa2dc" />
<text x="321.00" y="425.20" font-size="6.2" fill="#333" color="#333">PR</text>
<text x="321.00" y="435.40" font-size="6.2" fill="#333" color="#333">PR</text>
<text x="339.60" y="425.00" font-size="5.6" fill="#333" color="#333">(RF)</text>
<text x="339.60" y="435.00" font-size="5.6" fill="#333" color="#333">(BM)</text>
<text x="246.90" y="506.60" font-size="8.3" fill="#222" color="#222" textLength="68.7" lengthAdjust="spacingAndGlyphs" transform="rotate(-90 246.90 506.60)">Relative LSC reduction</text>
<text x="257.70" y="488.80" font-size="8.3" fill="#222" color="#222" textLength="34" lengthAdjust="spacingAndGlyphs" transform="rotate(-90 257.70 488.80)">(to vehicle)</text>
<rect x="0.6" y="0.6" width="518.8" height="557.8" fill="none" stroke="#000" stroke-width="1.3"/>
</svg></body></html>
